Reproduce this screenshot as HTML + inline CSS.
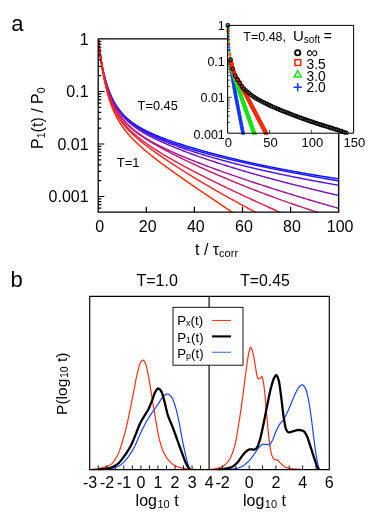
<!DOCTYPE html>
<html><head><meta charset="utf-8"><title>figure</title>
<style>html,body{margin:0;padding:0;background:#fff}body{width:374px;height:519px;overflow:hidden;font-family:"Liberation Sans",sans-serif}svg{display:block;transform:translateZ(0);will-change:transform}</style>
</head><body>
<svg width="374" height="519" viewBox="0 0 374 519" font-family="Liberation Sans, sans-serif" fill="#000">
<rect width="374" height="519" fill="#fff"/>
<defs>
<clipPath id="cm"><rect x="98.2" y="38.8" width="240.5" height="173.39999999999998"/></clipPath>
<clipPath id="ci"><rect x="224.6" y="22.4" width="129.00000000000003" height="112.39999999999998"/></clipPath>
<clipPath id="cl"><rect x="89.7" y="296.3" width="119.39999999999999" height="174.10000000000002"/></clipPath>
<clipPath id="cr"><rect x="209.1" y="296.3" width="120.20000000000002" height="174.10000000000002"/></clipPath>
</defs>
<text x="11.2" y="31" font-size="22">a</text>
<text x="10.6" y="287.3" font-size="22">b</text>
<g clip-path="url(#cm)" fill="none" stroke-width="1.45" stroke-linejoin="round">
<path d="M98.20,39.00 L98.40,40.78 L98.60,42.50 L98.81,44.17 L99.01,45.79 L99.21,47.37 L99.41,48.89 L99.61,50.37 L99.82,51.81 L100.02,53.20 L100.22,54.56 L100.42,55.88 L100.63,57.17 L100.83,58.41 L101.03,59.63 L101.23,60.81 L101.43,61.97 L101.64,63.09 L101.84,64.19 L102.04,65.25 L102.24,66.29 L102.44,67.31 L102.65,68.30 L102.85,69.27 L103.05,70.21 L103.25,71.14 L103.45,72.04 L103.66,72.92 L103.86,73.79 L104.06,74.63 L104.26,75.46 L104.47,76.26 L104.67,77.05 L104.87,77.83 L105.07,78.59 L105.27,79.33 L105.48,80.06 L105.68,80.77 L105.88,81.47 L106.08,82.16 L106.28,82.83 L106.49,83.49 L106.69,84.14 L106.89,84.77 L107.09,85.40 L107.29,86.01 L107.50,86.61 L107.70,87.20 L107.90,87.79 L108.10,88.36 L108.31,88.92 L108.51,89.47 L108.71,90.01 L108.91,90.55 L109.11,91.07 L109.32,91.59 L109.52,92.09 L109.72,92.59 L109.92,93.09 L110.12,93.57 L110.33,94.05 L110.53,94.52 L110.73,94.98 L110.93,95.43 L111.13,95.88 L111.34,96.33 L111.54,96.76 L111.74,97.19 L111.94,97.61 L112.14,98.03 L112.35,98.44 L112.55,98.85 L112.75,99.25 L112.95,99.64 L113.16,100.03 L113.36,100.41 L113.56,100.79 L113.76,101.16 L113.96,101.53 L114.17,101.89 L114.37,102.25 L114.57,102.61 L114.77,102.96 L114.97,103.30 L115.18,103.64 L115.38,103.98 L115.58,104.31 L115.78,104.64 L115.98,104.96 L116.19,105.28 L116.39,105.60 L116.59,105.91 L116.79,106.22 L117.00,106.52 L117.20,106.83 L117.40,107.12 L117.60,107.42 L117.80,107.71 L118.01,108.00 L118.21,108.28 L118.41,108.56 L118.61,108.84 L118.81,109.11 L119.02,109.39 L119.22,109.65 L119.42,109.92 L119.62,110.18 L119.82,110.44 L120.03,110.70 L120.23,110.96 L120.43,111.21 L120.63,111.46 L120.84,111.70 L121.04,111.95 L121.24,112.19 L121.44,112.43 L121.64,112.66 L121.85,112.90 L122.05,113.13 L122.25,113.36 L122.97,114.16 L123.70,114.94 L124.42,115.69 L125.15,116.41 L125.87,117.11 L126.59,117.79 L127.32,118.45 L128.04,119.09 L128.77,119.71 L129.49,120.31 L130.21,120.89 L130.94,121.46 L131.66,122.02 L132.38,122.55 L133.11,123.08 L133.83,123.59 L134.56,124.09 L135.28,124.58 L136.00,125.06 L136.73,125.52 L137.45,125.98 L138.18,126.42 L138.90,126.86 L139.62,127.29 L140.35,127.71 L141.07,128.12 L141.80,128.52 L142.52,128.92 L143.24,129.31 L143.97,129.69 L144.69,130.06 L145.42,130.43 L146.14,130.80 L146.86,131.16 L147.59,131.51 L148.31,131.86 L149.03,132.20 L149.76,132.54 L150.48,132.87 L151.21,133.20 L151.93,133.52 L152.65,133.84 L153.38,134.16 L154.10,134.47 L154.83,134.78 L155.55,135.09 L156.27,135.39 L157.00,135.69 L157.72,135.98 L158.45,136.28 L159.17,136.57 L159.89,136.85 L160.62,137.14 L161.34,137.42 L162.07,137.70 L162.79,137.97 L163.51,138.25 L164.24,138.52 L164.96,138.79 L165.68,139.06 L166.41,139.32 L167.13,139.59 L167.86,139.85 L168.58,140.11 L169.30,140.37 L170.03,140.62 L170.75,140.88 L171.48,141.13 L172.20,141.38 L172.92,141.63 L173.65,141.88 L174.37,142.12 L175.10,142.37 L175.82,142.61 L176.54,142.85 L177.27,143.09 L177.99,143.33 L178.72,143.57 L179.44,143.81 L180.16,144.04 L180.89,144.27 L181.61,144.51 L182.33,144.74 L183.06,144.97 L183.78,145.20 L184.51,145.42 L185.23,145.65 L185.95,145.88 L186.68,146.10 L187.40,146.32 L188.13,146.55 L188.85,146.77 L189.57,146.99 L190.30,147.21 L191.02,147.42 L191.75,147.64 L192.47,147.86 L193.19,148.07 L193.92,148.29 L194.64,148.50 L195.37,148.71 L196.09,148.92 L196.81,149.14 L197.54,149.34 L198.26,149.55 L198.98,149.76 L199.71,149.97 L200.43,150.17 L201.16,150.38 L201.88,150.58 L202.60,150.79 L203.33,150.99 L204.05,151.19 L204.78,151.39 L205.50,151.59 L206.22,151.79 L206.95,151.99 L207.67,152.19 L208.40,152.39 L209.12,152.59 L209.84,152.78 L210.57,152.98 L211.29,153.17 L212.02,153.36 L212.74,153.56 L213.46,153.75 L214.19,153.94 L214.91,154.13 L215.63,154.32 L216.36,154.51 L217.08,154.70 L217.81,154.89 L218.53,155.07 L219.25,155.26 L219.98,155.45 L220.70,155.63 L221.43,155.82 L222.15,156.00 L222.87,156.18 L223.60,156.36 L224.32,156.55 L225.05,156.73 L225.77,156.91 L226.49,157.09 L227.22,157.27 L227.94,157.45 L228.67,157.62 L229.39,157.80 L230.11,157.98 L230.84,158.15 L231.56,158.33 L232.28,158.50 L233.01,158.68 L233.73,158.85 L234.46,159.02 L235.18,159.20 L235.90,159.37 L236.63,159.54 L237.35,159.71 L238.08,159.88 L238.80,160.05 L239.52,160.22 L240.25,160.39 L240.97,160.55 L241.70,160.72 L242.42,160.89 L243.14,161.05 L243.87,161.22 L244.59,161.38 L245.32,161.55 L246.04,161.71 L246.76,161.88 L247.49,162.04 L248.21,162.20 L248.93,162.36 L249.66,162.52 L250.38,162.68 L251.11,162.84 L251.83,163.00 L252.55,163.16 L253.28,163.32 L254.00,163.48 L254.73,163.63 L255.45,163.79 L256.17,163.95 L256.90,164.10 L257.62,164.26 L258.35,164.41 L259.07,164.57 L259.79,164.72 L260.52,164.87 L261.24,165.03 L261.97,165.18 L262.69,165.33 L263.41,165.48 L264.14,165.63 L264.86,165.78 L265.58,165.93 L266.31,166.08 L267.03,166.23 L267.76,166.38 L268.48,166.53 L269.20,166.67 L269.93,166.82 L270.65,166.97 L271.38,167.11 L272.10,167.26 L272.82,167.40 L273.55,167.55 L274.27,167.69 L275.00,167.83 L275.72,167.98 L276.44,168.12 L277.17,168.26 L277.89,168.40 L278.62,168.54 L279.34,168.68 L280.06,168.82 L280.79,168.96 L281.51,169.10 L282.23,169.24 L282.96,169.38 L283.68,169.52 L284.41,169.66 L285.13,169.79 L285.85,169.93 L286.58,170.07 L287.30,170.20 L288.03,170.34 L288.75,170.47 L289.47,170.61 L290.20,170.74 L290.92,170.88 L291.65,171.01 L292.37,171.14 L293.09,171.28 L293.82,171.41 L294.54,171.54 L295.27,171.67 L295.99,171.80 L296.71,171.93 L297.44,172.06 L298.16,172.19 L298.88,172.32 L299.61,172.45 L300.33,172.58 L301.06,172.71 L301.78,172.83 L302.50,172.96 L303.23,173.09 L303.95,173.22 L304.68,173.34 L305.40,173.47 L306.12,173.59 L306.85,173.72 L307.57,173.84 L308.30,173.97 L309.02,174.09 L309.74,174.21 L310.47,174.34 L311.19,174.46 L311.92,174.58 L312.64,174.71 L313.36,174.83 L314.09,174.95 L314.81,175.07 L315.53,175.19 L316.26,175.31 L316.98,175.43 L317.71,175.55 L318.43,175.67 L319.15,175.79 L319.88,175.91 L320.60,176.02 L321.33,176.14 L322.05,176.26 L322.77,176.38 L323.50,176.49 L324.22,176.61 L324.95,176.73 L325.67,176.84 L326.39,176.96 L327.12,177.07 L327.84,177.19 L328.57,177.30 L329.29,177.42 L330.01,177.53 L330.74,177.64 L331.46,177.76 L332.18,177.87 L332.91,177.98 L333.63,178.09 L334.36,178.21 L335.08,178.32 L335.80,178.43 L336.53,178.54 L337.25,178.65 L337.98,178.76 L338.70,178.87" stroke="rgb(0,20,255)"/>
<path d="M98.20,39.00 L98.40,40.77 L98.60,42.49 L98.81,44.15 L99.01,45.77 L99.21,47.34 L99.41,48.86 L99.61,50.35 L99.82,51.79 L100.02,53.19 L100.22,54.55 L100.42,55.88 L100.63,57.17 L100.83,58.43 L101.03,59.65 L101.23,60.85 L101.43,62.01 L101.64,63.15 L101.84,64.25 L102.04,65.33 L102.24,66.38 L102.44,67.41 L102.65,68.42 L102.85,69.40 L103.05,70.35 L103.25,71.29 L103.45,72.20 L103.66,73.10 L103.86,73.97 L104.06,74.83 L104.26,75.67 L104.47,76.49 L104.67,77.29 L104.87,78.07 L105.07,78.84 L105.27,79.60 L105.48,80.34 L105.68,81.06 L105.88,81.77 L106.08,82.47 L106.28,83.15 L106.49,83.82 L106.69,84.47 L106.89,85.12 L107.09,85.75 L107.29,86.37 L107.50,86.98 L107.70,87.58 L107.90,88.17 L108.10,88.75 L108.31,89.32 L108.51,89.88 L108.71,90.43 L108.91,90.97 L109.11,91.50 L109.32,92.02 L109.52,92.53 L109.72,93.04 L109.92,93.54 L110.12,94.03 L110.33,94.51 L110.53,94.98 L110.73,95.45 L110.93,95.91 L111.13,96.36 L111.34,96.81 L111.54,97.25 L111.74,97.68 L111.94,98.11 L112.14,98.53 L112.35,98.94 L112.55,99.35 L112.75,99.75 L112.95,100.15 L113.16,100.54 L113.36,100.93 L113.56,101.31 L113.76,101.69 L113.96,102.06 L114.17,102.42 L114.37,102.78 L114.57,103.14 L114.77,103.49 L114.97,103.84 L115.18,104.18 L115.38,104.52 L115.58,104.85 L115.78,105.18 L115.98,105.51 L116.19,105.83 L116.39,106.15 L116.59,106.47 L116.79,106.78 L117.00,107.08 L117.20,107.39 L117.40,107.69 L117.60,107.98 L117.80,108.27 L118.01,108.56 L118.21,108.85 L118.41,109.13 L118.61,109.41 L118.81,109.69 L119.02,109.96 L119.22,110.23 L119.42,110.50 L119.62,110.77 L119.82,111.03 L120.03,111.29 L120.23,111.54 L120.43,111.80 L120.63,112.05 L120.84,112.30 L121.04,112.54 L121.24,112.79 L121.44,113.03 L121.64,113.27 L121.85,113.50 L122.05,113.74 L122.25,113.97 L122.97,114.78 L123.70,115.57 L124.42,116.33 L125.15,117.06 L125.87,117.77 L126.59,118.46 L127.32,119.13 L128.04,119.78 L128.77,120.42 L129.49,121.03 L130.21,121.63 L130.94,122.21 L131.66,122.78 L132.38,123.34 L133.11,123.88 L133.83,124.41 L134.56,124.92 L135.28,125.43 L136.00,125.92 L136.73,126.40 L137.45,126.88 L138.18,127.34 L138.90,127.79 L139.62,128.24 L140.35,128.68 L141.07,129.11 L141.80,129.53 L142.52,129.94 L143.24,130.35 L143.97,130.75 L144.69,131.14 L145.42,131.53 L146.14,131.91 L146.86,132.28 L147.59,132.65 L148.31,133.02 L149.03,133.38 L149.76,133.73 L150.48,134.08 L151.21,134.43 L151.93,134.77 L152.65,135.10 L153.38,135.43 L154.10,135.76 L154.83,136.09 L155.55,136.41 L156.27,136.72 L157.00,137.03 L157.72,137.34 L158.45,137.65 L159.17,137.95 L159.89,138.25 L160.62,138.55 L161.34,138.84 L162.07,139.13 L162.79,139.42 L163.51,139.71 L164.24,139.99 L164.96,140.27 L165.68,140.55 L166.41,140.82 L167.13,141.10 L167.86,141.37 L168.58,141.64 L169.30,141.90 L170.03,142.17 L170.75,142.43 L171.48,142.69 L172.20,142.95 L172.92,143.20 L173.65,143.46 L174.37,143.71 L175.10,143.96 L175.82,144.21 L176.54,144.45 L177.27,144.70 L177.99,144.94 L178.72,145.18 L179.44,145.42 L180.16,145.66 L180.89,145.90 L181.61,146.14 L182.33,146.37 L183.06,146.60 L183.78,146.83 L184.51,147.06 L185.23,147.29 L185.95,147.52 L186.68,147.75 L187.40,147.97 L188.13,148.19 L188.85,148.41 L189.57,148.64 L190.30,148.85 L191.02,149.07 L191.75,149.29 L192.47,149.51 L193.19,149.72 L193.92,149.93 L194.64,150.15 L195.37,150.36 L196.09,150.57 L196.81,150.78 L197.54,150.99 L198.26,151.19 L198.98,151.40 L199.71,151.60 L200.43,151.81 L201.16,152.01 L201.88,152.21 L202.60,152.41 L203.33,152.61 L204.05,152.81 L204.78,153.01 L205.50,153.21 L206.22,153.41 L206.95,153.60 L207.67,153.80 L208.40,153.99 L209.12,154.18 L209.84,154.38 L210.57,154.57 L211.29,154.76 L212.02,154.95 L212.74,155.14 L213.46,155.33 L214.19,155.51 L214.91,155.70 L215.63,155.89 L216.36,156.07 L217.08,156.25 L217.81,156.44 L218.53,156.62 L219.25,156.80 L219.98,156.99 L220.70,157.17 L221.43,157.35 L222.15,157.53 L222.87,157.70 L223.60,157.88 L224.32,158.06 L225.05,158.24 L225.77,158.41 L226.49,158.59 L227.22,158.76 L227.94,158.94 L228.67,159.11 L229.39,159.28 L230.11,159.46 L230.84,159.63 L231.56,159.80 L232.28,159.97 L233.01,160.14 L233.73,160.31 L234.46,160.48 L235.18,160.65 L235.90,160.81 L236.63,160.98 L237.35,161.15 L238.08,161.31 L238.80,161.48 L239.52,161.65 L240.25,161.81 L240.97,161.97 L241.70,162.14 L242.42,162.30 L243.14,162.46 L243.87,162.62 L244.59,162.79 L245.32,162.95 L246.04,163.11 L246.76,163.27 L247.49,163.43 L248.21,163.59 L248.93,163.75 L249.66,163.90 L250.38,164.06 L251.11,164.22 L251.83,164.38 L252.55,164.53 L253.28,164.69 L254.00,164.84 L254.73,165.00 L255.45,165.15 L256.17,165.31 L256.90,165.46 L257.62,165.62 L258.35,165.77 L259.07,165.92 L259.79,166.07 L260.52,166.22 L261.24,166.38 L261.97,166.53 L262.69,166.68 L263.41,166.83 L264.14,166.98 L264.86,167.13 L265.58,167.28 L266.31,167.43 L267.03,167.57 L267.76,167.72 L268.48,167.87 L269.20,168.02 L269.93,168.17 L270.65,168.31 L271.38,168.46 L272.10,168.60 L272.82,168.75 L273.55,168.90 L274.27,169.04 L275.00,169.19 L275.72,169.33 L276.44,169.47 L277.17,169.62 L277.89,169.76 L278.62,169.90 L279.34,170.05 L280.06,170.19 L280.79,170.33 L281.51,170.47 L282.23,170.62 L282.96,170.76 L283.68,170.90 L284.41,171.04 L285.13,171.18 L285.85,171.32 L286.58,171.46 L287.30,171.60 L288.03,171.74 L288.75,171.88 L289.47,172.02 L290.20,172.16 L290.92,172.29 L291.65,172.43 L292.37,172.57 L293.09,172.71 L293.82,172.85 L294.54,172.98 L295.27,173.12 L295.99,173.26 L296.71,173.39 L297.44,173.53 L298.16,173.66 L298.88,173.80 L299.61,173.94 L300.33,174.07 L301.06,174.21 L301.78,174.34 L302.50,174.48 L303.23,174.61 L303.95,174.74 L304.68,174.88 L305.40,175.01 L306.12,175.14 L306.85,175.28 L307.57,175.41 L308.30,175.54 L309.02,175.68 L309.74,175.81 L310.47,175.94 L311.19,176.07 L311.92,176.20 L312.64,176.34 L313.36,176.47 L314.09,176.60 L314.81,176.73 L315.53,176.86 L316.26,176.99 L316.98,177.12 L317.71,177.25 L318.43,177.38 L319.15,177.51 L319.88,177.64 L320.60,177.77 L321.33,177.90 L322.05,178.03 L322.77,178.16 L323.50,178.29 L324.22,178.42 L324.95,178.54 L325.67,178.67 L326.39,178.80 L327.12,178.93 L327.84,179.06 L328.57,179.18 L329.29,179.31 L330.01,179.44 L330.74,179.57 L331.46,179.69 L332.18,179.82 L332.91,179.95 L333.63,180.07 L334.36,180.20 L335.08,180.32 L335.80,180.45 L336.53,180.58 L337.25,180.70 L337.98,180.83 L338.70,180.95" stroke="rgb(38,20,255)"/>
<path d="M98.20,39.00 L98.40,40.78 L98.60,42.51 L98.81,44.18 L99.01,45.81 L99.21,47.39 L99.41,48.92 L99.61,50.41 L99.82,51.86 L100.02,53.27 L100.22,54.64 L100.42,55.97 L100.63,57.27 L100.83,58.53 L101.03,59.76 L101.23,60.96 L101.43,62.13 L101.64,63.27 L101.84,64.38 L102.04,65.47 L102.24,66.52 L102.44,67.56 L102.65,68.57 L102.85,69.55 L103.05,70.52 L103.25,71.46 L103.45,72.38 L103.66,73.28 L103.86,74.16 L104.06,75.02 L104.26,75.86 L104.47,76.69 L104.67,77.50 L104.87,78.29 L105.07,79.06 L105.27,79.82 L105.48,80.57 L105.68,81.30 L105.88,82.01 L106.08,82.71 L106.28,83.40 L106.49,84.08 L106.69,84.74 L106.89,85.39 L107.09,86.03 L107.29,86.66 L107.50,87.28 L107.70,87.88 L107.90,88.48 L108.10,89.06 L108.31,89.64 L108.51,90.20 L108.71,90.76 L108.91,91.30 L109.11,91.84 L109.32,92.37 L109.52,92.89 L109.72,93.40 L109.92,93.90 L110.12,94.40 L110.33,94.89 L110.53,95.37 L110.73,95.84 L110.93,96.31 L111.13,96.77 L111.34,97.22 L111.54,97.67 L111.74,98.11 L111.94,98.54 L112.14,98.97 L112.35,99.39 L112.55,99.80 L112.75,100.21 L112.95,100.61 L113.16,101.01 L113.36,101.40 L113.56,101.79 L113.76,102.17 L113.96,102.55 L114.17,102.92 L114.37,103.29 L114.57,103.65 L114.77,104.01 L114.97,104.36 L115.18,104.71 L115.38,105.06 L115.58,105.40 L115.78,105.73 L115.98,106.06 L116.19,106.39 L116.39,106.72 L116.59,107.04 L116.79,107.35 L117.00,107.66 L117.20,107.97 L117.40,108.28 L117.60,108.58 L117.80,108.88 L118.01,109.17 L118.21,109.46 L118.41,109.75 L118.61,110.04 L118.81,110.32 L119.02,110.60 L119.22,110.87 L119.42,111.14 L119.62,111.41 L119.82,111.68 L120.03,111.94 L120.23,112.21 L120.43,112.46 L120.63,112.72 L120.84,112.97 L121.04,113.22 L121.24,113.47 L121.44,113.72 L121.64,113.96 L121.85,114.20 L122.05,114.44 L122.25,114.67 L122.97,115.50 L123.70,116.30 L124.42,117.07 L125.15,117.82 L125.87,118.54 L126.59,119.24 L127.32,119.92 L128.04,120.59 L128.77,121.23 L129.49,121.85 L130.21,122.46 L130.94,123.05 L131.66,123.63 L132.38,124.19 L133.11,124.74 L133.83,125.28 L134.56,125.80 L135.28,126.31 L136.00,126.81 L136.73,127.30 L137.45,127.78 L138.18,128.25 L138.90,128.72 L139.62,129.17 L140.35,129.61 L141.07,130.05 L141.80,130.47 L142.52,130.90 L143.24,131.31 L143.97,131.72 L144.69,132.12 L145.42,132.51 L146.14,132.90 L146.86,133.28 L147.59,133.66 L148.31,134.03 L149.03,134.40 L149.76,134.76 L150.48,135.12 L151.21,135.47 L151.93,135.82 L152.65,136.17 L153.38,136.51 L154.10,136.84 L154.83,137.18 L155.55,137.51 L156.27,137.83 L157.00,138.15 L157.72,138.47 L158.45,138.79 L159.17,139.10 L159.89,139.42 L160.62,139.72 L161.34,140.03 L162.07,140.33 L162.79,140.63 L163.51,140.93 L164.24,141.22 L164.96,141.52 L165.68,141.81 L166.41,142.10 L167.13,142.38 L167.86,142.67 L168.58,142.95 L169.30,143.23 L170.03,143.51 L170.75,143.78 L171.48,144.06 L172.20,144.33 L172.92,144.60 L173.65,144.87 L174.37,145.14 L175.10,145.40 L175.82,145.67 L176.54,145.93 L177.27,146.19 L177.99,146.45 L178.72,146.71 L179.44,146.97 L180.16,147.22 L180.89,147.47 L181.61,147.73 L182.33,147.98 L183.06,148.23 L183.78,148.48 L184.51,148.72 L185.23,148.97 L185.95,149.21 L186.68,149.46 L187.40,149.70 L188.13,149.94 L188.85,150.18 L189.57,150.42 L190.30,150.66 L191.02,150.90 L191.75,151.13 L192.47,151.37 L193.19,151.60 L193.92,151.83 L194.64,152.06 L195.37,152.29 L196.09,152.52 L196.81,152.75 L197.54,152.98 L198.26,153.20 L198.98,153.43 L199.71,153.65 L200.43,153.88 L201.16,154.10 L201.88,154.32 L202.60,154.54 L203.33,154.76 L204.05,154.98 L204.78,155.20 L205.50,155.42 L206.22,155.63 L206.95,155.85 L207.67,156.06 L208.40,156.27 L209.12,156.49 L209.84,156.70 L210.57,156.91 L211.29,157.12 L212.02,157.33 L212.74,157.54 L213.46,157.75 L214.19,157.95 L214.91,158.16 L215.63,158.37 L216.36,158.57 L217.08,158.77 L217.81,158.98 L218.53,159.18 L219.25,159.38 L219.98,159.58 L220.70,159.78 L221.43,159.98 L222.15,160.18 L222.87,160.38 L223.60,160.58 L224.32,160.77 L225.05,160.97 L225.77,161.16 L226.49,161.36 L227.22,161.55 L227.94,161.74 L228.67,161.94 L229.39,162.13 L230.11,162.32 L230.84,162.51 L231.56,162.70 L232.28,162.89 L233.01,163.08 L233.73,163.26 L234.46,163.45 L235.18,163.64 L235.90,163.82 L236.63,164.01 L237.35,164.19 L238.08,164.38 L238.80,164.56 L239.52,164.74 L240.25,164.92 L240.97,165.11 L241.70,165.29 L242.42,165.47 L243.14,165.65 L243.87,165.83 L244.59,166.00 L245.32,166.18 L246.04,166.36 L246.76,166.54 L247.49,166.71 L248.21,166.89 L248.93,167.06 L249.66,167.24 L250.38,167.41 L251.11,167.58 L251.83,167.76 L252.55,167.93 L253.28,168.10 L254.00,168.27 L254.73,168.44 L255.45,168.61 L256.17,168.78 L256.90,168.95 L257.62,169.12 L258.35,169.28 L259.07,169.45 L259.79,169.62 L260.52,169.79 L261.24,169.95 L261.97,170.12 L262.69,170.28 L263.41,170.45 L264.14,170.61 L264.86,170.77 L265.58,170.93 L266.31,171.10 L267.03,171.26 L267.76,171.42 L268.48,171.58 L269.20,171.74 L269.93,171.90 L270.65,172.06 L271.38,172.22 L272.10,172.38 L272.82,172.54 L273.55,172.69 L274.27,172.85 L275.00,173.01 L275.72,173.16 L276.44,173.32 L277.17,173.47 L277.89,173.63 L278.62,173.78 L279.34,173.94 L280.06,174.09 L280.79,174.24 L281.51,174.39 L282.23,174.55 L282.96,174.70 L283.68,174.85 L284.41,175.00 L285.13,175.15 L285.85,175.30 L286.58,175.45 L287.30,175.60 L288.03,175.75 L288.75,175.90 L289.47,176.05 L290.20,176.19 L290.92,176.34 L291.65,176.49 L292.37,176.63 L293.09,176.78 L293.82,176.92 L294.54,177.07 L295.27,177.21 L295.99,177.36 L296.71,177.50 L297.44,177.65 L298.16,177.79 L298.88,177.93 L299.61,178.08 L300.33,178.22 L301.06,178.36 L301.78,178.50 L302.50,178.64 L303.23,178.78 L303.95,178.92 L304.68,179.06 L305.40,179.20 L306.12,179.34 L306.85,179.48 L307.57,179.62 L308.30,179.76 L309.02,179.90 L309.74,180.03 L310.47,180.17 L311.19,180.31 L311.92,180.44 L312.64,180.58 L313.36,180.72 L314.09,180.85 L314.81,180.99 L315.53,181.12 L316.26,181.26 L316.98,181.39 L317.71,181.52 L318.43,181.66 L319.15,181.79 L319.88,181.92 L320.60,182.06 L321.33,182.19 L322.05,182.32 L322.77,182.45 L323.50,182.58 L324.22,182.72 L324.95,182.85 L325.67,182.98 L326.39,183.11 L327.12,183.24 L327.84,183.37 L328.57,183.50 L329.29,183.63 L330.01,183.75 L330.74,183.88 L331.46,184.01 L332.18,184.14 L332.91,184.27 L333.63,184.39 L334.36,184.52 L335.08,184.65 L335.80,184.77 L336.53,184.90 L337.25,185.03 L337.98,185.15 L338.70,185.28" stroke="rgb(76,21,229)"/>
<path d="M98.20,39.00 L98.40,40.77 L98.60,42.48 L98.81,44.15 L99.01,45.78 L99.21,47.35 L99.41,48.89 L99.61,50.38 L99.82,51.83 L100.02,53.25 L100.22,54.62 L100.42,55.97 L100.63,57.27 L100.83,58.55 L101.03,59.79 L101.23,61.00 L101.43,62.18 L101.64,63.34 L101.84,64.46 L102.04,65.56 L102.24,66.64 L102.44,67.69 L102.65,68.71 L102.85,69.71 L103.05,70.69 L103.25,71.65 L103.45,72.59 L103.66,73.50 L103.86,74.40 L104.06,75.28 L104.26,76.14 L104.47,76.98 L104.67,77.80 L104.87,78.61 L105.07,79.40 L105.27,80.18 L105.48,80.94 L105.68,81.68 L105.88,82.41 L106.08,83.13 L106.28,83.83 L106.49,84.52 L106.69,85.20 L106.89,85.86 L107.09,86.52 L107.29,87.16 L107.50,87.79 L107.70,88.40 L107.90,89.01 L108.10,89.61 L108.31,90.19 L108.51,90.77 L108.71,91.34 L108.91,91.90 L109.11,92.44 L109.32,92.98 L109.52,93.51 L109.72,94.03 L109.92,94.55 L110.12,95.05 L110.33,95.55 L110.53,96.04 L110.73,96.52 L110.93,97.00 L111.13,97.46 L111.34,97.92 L111.54,98.38 L111.74,98.82 L111.94,99.26 L112.14,99.70 L112.35,100.13 L112.55,100.55 L112.75,100.96 L112.95,101.37 L113.16,101.78 L113.36,102.17 L113.56,102.57 L113.76,102.95 L113.96,103.34 L114.17,103.71 L114.37,104.09 L114.57,104.45 L114.77,104.81 L114.97,105.17 L115.18,105.53 L115.38,105.87 L115.58,106.22 L115.78,106.56 L115.98,106.89 L116.19,107.22 L116.39,107.55 L116.59,107.88 L116.79,108.19 L117.00,108.51 L117.20,108.82 L117.40,109.13 L117.60,109.44 L117.80,109.74 L118.01,110.03 L118.21,110.33 L118.41,110.62 L118.61,110.91 L118.81,111.19 L119.02,111.47 L119.22,111.75 L119.42,112.02 L119.62,112.30 L119.82,112.57 L120.03,112.83 L120.23,113.10 L120.43,113.36 L120.63,113.61 L120.84,113.87 L121.04,114.12 L121.24,114.37 L121.44,114.62 L121.64,114.86 L121.85,115.11 L122.05,115.35 L122.25,115.59 L122.97,116.42 L123.70,117.22 L124.42,118.00 L125.15,118.76 L125.87,119.49 L126.59,120.20 L127.32,120.89 L128.04,121.56 L128.77,122.21 L129.49,122.84 L130.21,123.46 L130.94,124.06 L131.66,124.65 L132.38,125.22 L133.11,125.78 L133.83,126.32 L134.56,126.86 L135.28,127.38 L136.00,127.90 L136.73,128.40 L137.45,128.89 L138.18,129.38 L138.90,129.85 L139.62,130.32 L140.35,130.77 L141.07,131.23 L141.80,131.67 L142.52,132.11 L143.24,132.53 L143.97,132.96 L144.69,133.38 L145.42,133.79 L146.14,134.19 L146.86,134.59 L147.59,134.99 L148.31,135.38 L149.03,135.77 L149.76,136.15 L150.48,136.52 L151.21,136.90 L151.93,137.27 L152.65,137.63 L153.38,137.99 L154.10,138.35 L154.83,138.71 L155.55,139.06 L156.27,139.40 L157.00,139.75 L157.72,140.09 L158.45,140.43 L159.17,140.77 L159.89,141.10 L160.62,141.43 L161.34,141.76 L162.07,142.09 L162.79,142.41 L163.51,142.73 L164.24,143.05 L164.96,143.37 L165.68,143.68 L166.41,143.99 L167.13,144.31 L167.86,144.61 L168.58,144.92 L169.30,145.23 L170.03,145.53 L170.75,145.83 L171.48,146.13 L172.20,146.43 L172.92,146.73 L173.65,147.02 L174.37,147.32 L175.10,147.61 L175.82,147.90 L176.54,148.19 L177.27,148.48 L177.99,148.77 L178.72,149.05 L179.44,149.33 L180.16,149.62 L180.89,149.90 L181.61,150.18 L182.33,150.46 L183.06,150.74 L183.78,151.01 L184.51,151.29 L185.23,151.56 L185.95,151.84 L186.68,152.11 L187.40,152.38 L188.13,152.65 L188.85,152.92 L189.57,153.19 L190.30,153.45 L191.02,153.72 L191.75,153.99 L192.47,154.25 L193.19,154.51 L193.92,154.77 L194.64,155.04 L195.37,155.30 L196.09,155.56 L196.81,155.81 L197.54,156.07 L198.26,156.33 L198.98,156.58 L199.71,156.84 L200.43,157.09 L201.16,157.35 L201.88,157.60 L202.60,157.85 L203.33,158.10 L204.05,158.35 L204.78,158.60 L205.50,158.85 L206.22,159.09 L206.95,159.34 L207.67,159.59 L208.40,159.83 L209.12,160.08 L209.84,160.32 L210.57,160.56 L211.29,160.81 L212.02,161.05 L212.74,161.29 L213.46,161.53 L214.19,161.77 L214.91,162.01 L215.63,162.24 L216.36,162.48 L217.08,162.72 L217.81,162.95 L218.53,163.19 L219.25,163.42 L219.98,163.66 L220.70,163.89 L221.43,164.12 L222.15,164.35 L222.87,164.59 L223.60,164.82 L224.32,165.05 L225.05,165.27 L225.77,165.50 L226.49,165.73 L227.22,165.96 L227.94,166.19 L228.67,166.41 L229.39,166.64 L230.11,166.86 L230.84,167.09 L231.56,167.31 L232.28,167.53 L233.01,167.76 L233.73,167.98 L234.46,168.20 L235.18,168.42 L235.90,168.64 L236.63,168.86 L237.35,169.08 L238.08,169.30 L238.80,169.51 L239.52,169.73 L240.25,169.95 L240.97,170.16 L241.70,170.38 L242.42,170.59 L243.14,170.81 L243.87,171.02 L244.59,171.24 L245.32,171.45 L246.04,171.66 L246.76,171.87 L247.49,172.09 L248.21,172.30 L248.93,172.51 L249.66,172.72 L250.38,172.93 L251.11,173.14 L251.83,173.34 L252.55,173.55 L253.28,173.76 L254.00,173.97 L254.73,174.17 L255.45,174.38 L256.17,174.58 L256.90,174.79 L257.62,174.99 L258.35,175.20 L259.07,175.40 L259.79,175.60 L260.52,175.81 L261.24,176.01 L261.97,176.21 L262.69,176.41 L263.41,176.61 L264.14,176.81 L264.86,177.01 L265.58,177.21 L266.31,177.41 L267.03,177.61 L267.76,177.81 L268.48,178.00 L269.20,178.20 L269.93,178.40 L270.65,178.59 L271.38,178.79 L272.10,178.99 L272.82,179.18 L273.55,179.38 L274.27,179.57 L275.00,179.76 L275.72,179.96 L276.44,180.15 L277.17,180.34 L277.89,180.53 L278.62,180.73 L279.34,180.92 L280.06,181.11 L280.79,181.30 L281.51,181.49 L282.23,181.68 L282.96,181.87 L283.68,182.06 L284.41,182.25 L285.13,182.43 L285.85,182.62 L286.58,182.81 L287.30,183.00 L288.03,183.18 L288.75,183.37 L289.47,183.56 L290.20,183.74 L290.92,183.93 L291.65,184.11 L292.37,184.30 L293.09,184.48 L293.82,184.67 L294.54,184.85 L295.27,185.03 L295.99,185.21 L296.71,185.40 L297.44,185.58 L298.16,185.76 L298.88,185.94 L299.61,186.12 L300.33,186.30 L301.06,186.49 L301.78,186.67 L302.50,186.85 L303.23,187.02 L303.95,187.20 L304.68,187.38 L305.40,187.56 L306.12,187.74 L306.85,187.92 L307.57,188.09 L308.30,188.27 L309.02,188.45 L309.74,188.63 L310.47,188.80 L311.19,188.98 L311.92,189.15 L312.64,189.33 L313.36,189.50 L314.09,189.68 L314.81,189.85 L315.53,190.03 L316.26,190.20 L316.98,190.37 L317.71,190.55 L318.43,190.72 L319.15,190.89 L319.88,191.07 L320.60,191.24 L321.33,191.41 L322.05,191.58 L322.77,191.75 L323.50,191.92 L324.22,192.10 L324.95,192.27 L325.67,192.44 L326.39,192.61 L327.12,192.78 L327.84,192.95 L328.57,193.11 L329.29,193.28 L330.01,193.45 L330.74,193.62 L331.46,193.79 L332.18,193.96 L332.91,194.12 L333.63,194.29 L334.36,194.46 L335.08,194.62 L335.80,194.79 L336.53,194.96 L337.25,195.12 L337.98,195.29 L338.70,195.46" stroke="rgb(115,23,191)"/>
<path d="M98.20,39.00 L98.40,40.78 L98.60,42.51 L98.81,44.20 L99.01,45.84 L99.21,47.44 L99.41,49.00 L99.61,50.51 L99.82,51.99 L100.02,53.43 L100.22,54.84 L100.42,56.21 L100.63,57.54 L100.83,58.85 L101.03,60.12 L101.23,61.36 L101.43,62.57 L101.64,63.76 L101.84,64.91 L102.04,66.04 L102.24,67.15 L102.44,68.23 L102.65,69.29 L102.85,70.32 L103.05,71.33 L103.25,72.32 L103.45,73.28 L103.66,74.23 L103.86,75.16 L104.06,76.07 L104.26,76.96 L104.47,77.83 L104.67,78.68 L104.87,79.52 L105.07,80.34 L105.27,81.14 L105.48,81.93 L105.68,82.71 L105.88,83.47 L106.08,84.21 L106.28,84.94 L106.49,85.66 L106.69,86.36 L106.89,87.05 L107.09,87.73 L107.29,88.40 L107.50,89.06 L107.70,89.70 L107.90,90.33 L108.10,90.95 L108.31,91.57 L108.51,92.17 L108.71,92.76 L108.91,93.34 L109.11,93.91 L109.32,94.47 L109.52,95.03 L109.72,95.57 L109.92,96.11 L110.12,96.64 L110.33,97.16 L110.53,97.67 L110.73,98.17 L110.93,98.67 L111.13,99.16 L111.34,99.64 L111.54,100.11 L111.74,100.58 L111.94,101.04 L112.14,101.49 L112.35,101.94 L112.55,102.38 L112.75,102.82 L112.95,103.25 L113.16,103.67 L113.36,104.09 L113.56,104.50 L113.76,104.91 L113.96,105.31 L114.17,105.70 L114.37,106.09 L114.57,106.48 L114.77,106.86 L114.97,107.24 L115.18,107.61 L115.38,107.97 L115.58,108.34 L115.78,108.69 L115.98,109.05 L116.19,109.40 L116.39,109.74 L116.59,110.08 L116.79,110.42 L117.00,110.75 L117.20,111.08 L117.40,111.41 L117.60,111.73 L117.80,112.04 L118.01,112.36 L118.21,112.67 L118.41,112.98 L118.61,113.28 L118.81,113.58 L119.02,113.88 L119.22,114.17 L119.42,114.46 L119.62,114.75 L119.82,115.04 L120.03,115.32 L120.23,115.60 L120.43,115.88 L120.63,116.15 L120.84,116.42 L121.04,116.69 L121.24,116.96 L121.44,117.22 L121.64,117.48 L121.85,117.74 L122.05,117.99 L122.25,118.25 L122.97,119.14 L123.70,120.00 L124.42,120.83 L125.15,121.64 L125.87,122.42 L126.59,123.19 L127.32,123.93 L128.04,124.65 L128.77,125.35 L129.49,126.04 L130.21,126.70 L130.94,127.36 L131.66,127.99 L132.38,128.62 L133.11,129.22 L133.83,129.82 L134.56,130.40 L135.28,130.98 L136.00,131.54 L136.73,132.09 L137.45,132.63 L138.18,133.16 L138.90,133.68 L139.62,134.19 L140.35,134.69 L141.07,135.19 L141.80,135.67 L142.52,136.15 L143.24,136.63 L143.97,137.09 L144.69,137.55 L145.42,138.01 L146.14,138.45 L146.86,138.89 L147.59,139.33 L148.31,139.76 L149.03,140.18 L149.76,140.60 L150.48,141.02 L151.21,141.43 L151.93,141.84 L152.65,142.24 L153.38,142.64 L154.10,143.03 L154.83,143.42 L155.55,143.81 L156.27,144.19 L157.00,144.57 L157.72,144.94 L158.45,145.31 L159.17,145.68 L159.89,146.05 L160.62,146.41 L161.34,146.77 L162.07,147.13 L162.79,147.49 L163.51,147.84 L164.24,148.19 L164.96,148.53 L165.68,148.88 L166.41,149.22 L167.13,149.56 L167.86,149.90 L168.58,150.24 L169.30,150.57 L170.03,150.90 L170.75,151.23 L171.48,151.56 L172.20,151.89 L172.92,152.21 L173.65,152.53 L174.37,152.85 L175.10,153.17 L175.82,153.49 L176.54,153.81 L177.27,154.12 L177.99,154.43 L178.72,154.75 L179.44,155.06 L180.16,155.36 L180.89,155.67 L181.61,155.98 L182.33,156.28 L183.06,156.58 L183.78,156.89 L184.51,157.19 L185.23,157.49 L185.95,157.78 L186.68,158.08 L187.40,158.38 L188.13,158.67 L188.85,158.97 L189.57,159.26 L190.30,159.55 L191.02,159.84 L191.75,160.13 L192.47,160.42 L193.19,160.71 L193.92,161.00 L194.64,161.28 L195.37,161.57 L196.09,161.85 L196.81,162.13 L197.54,162.42 L198.26,162.70 L198.98,162.98 L199.71,163.26 L200.43,163.54 L201.16,163.82 L201.88,164.09 L202.60,164.37 L203.33,164.65 L204.05,164.92 L204.78,165.19 L205.50,165.47 L206.22,165.74 L206.95,166.01 L207.67,166.29 L208.40,166.56 L209.12,166.83 L209.84,167.10 L210.57,167.36 L211.29,167.63 L212.02,167.90 L212.74,168.17 L213.46,168.43 L214.19,168.70 L214.91,168.96 L215.63,169.23 L216.36,169.49 L217.08,169.76 L217.81,170.02 L218.53,170.28 L219.25,170.54 L219.98,170.80 L220.70,171.06 L221.43,171.32 L222.15,171.58 L222.87,171.84 L223.60,172.10 L224.32,172.36 L225.05,172.62 L225.77,172.87 L226.49,173.13 L227.22,173.38 L227.94,173.64 L228.67,173.89 L229.39,174.15 L230.11,174.40 L230.84,174.65 L231.56,174.91 L232.28,175.16 L233.01,175.41 L233.73,175.66 L234.46,175.91 L235.18,176.16 L235.90,176.41 L236.63,176.66 L237.35,176.91 L238.08,177.16 L238.80,177.41 L239.52,177.66 L240.25,177.91 L240.97,178.15 L241.70,178.40 L242.42,178.64 L243.14,178.89 L243.87,179.14 L244.59,179.38 L245.32,179.62 L246.04,179.87 L246.76,180.11 L247.49,180.36 L248.21,180.60 L248.93,180.84 L249.66,181.08 L250.38,181.32 L251.11,181.57 L251.83,181.81 L252.55,182.05 L253.28,182.29 L254.00,182.53 L254.73,182.77 L255.45,183.00 L256.17,183.24 L256.90,183.48 L257.62,183.72 L258.35,183.96 L259.07,184.19 L259.79,184.43 L260.52,184.67 L261.24,184.90 L261.97,185.14 L262.69,185.37 L263.41,185.61 L264.14,185.84 L264.86,186.08 L265.58,186.31 L266.31,186.54 L267.03,186.78 L267.76,187.01 L268.48,187.24 L269.20,187.47 L269.93,187.71 L270.65,187.94 L271.38,188.17 L272.10,188.40 L272.82,188.63 L273.55,188.86 L274.27,189.09 L275.00,189.32 L275.72,189.55 L276.44,189.78 L277.17,190.01 L277.89,190.23 L278.62,190.46 L279.34,190.69 L280.06,190.92 L280.79,191.14 L281.51,191.37 L282.23,191.60 L282.96,191.82 L283.68,192.05 L284.41,192.27 L285.13,192.50 L285.85,192.72 L286.58,192.95 L287.30,193.17 L288.03,193.40 L288.75,193.62 L289.47,193.84 L290.20,194.06 L290.92,194.29 L291.65,194.51 L292.37,194.73 L293.09,194.95 L293.82,195.17 L294.54,195.40 L295.27,195.62 L295.99,195.84 L296.71,196.06 L297.44,196.28 L298.16,196.50 L298.88,196.72 L299.61,196.94 L300.33,197.15 L301.06,197.37 L301.78,197.59 L302.50,197.81 L303.23,198.03 L303.95,198.24 L304.68,198.46 L305.40,198.68 L306.12,198.89 L306.85,199.11 L307.57,199.33 L308.30,199.54 L309.02,199.76 L309.74,199.97 L310.47,200.19 L311.19,200.40 L311.92,200.62 L312.64,200.83 L313.36,201.04 L314.09,201.26 L314.81,201.47 L315.53,201.68 L316.26,201.90 L316.98,202.11 L317.71,202.32 L318.43,202.53 L319.15,202.74 L319.88,202.96 L320.60,203.17 L321.33,203.38 L322.05,203.59 L322.77,203.80 L323.50,204.01 L324.22,204.22 L324.95,204.43 L325.67,204.64 L326.39,204.85 L327.12,205.06 L327.84,205.26 L328.57,205.47 L329.29,205.68 L330.01,205.89 L330.74,206.10 L331.46,206.30 L332.18,206.51 L332.91,206.72 L333.63,206.92 L334.36,207.13 L335.08,207.34 L335.80,207.54 L336.53,207.75 L337.25,207.95 L337.98,208.16 L338.70,208.36" stroke="rgb(153,25,153)"/>
<path d="M98.20,39.00 L98.40,40.75 L98.60,42.45 L98.81,44.11 L99.01,45.73 L99.21,47.32 L99.41,48.86 L99.61,50.37 L99.82,51.85 L100.02,53.29 L100.22,54.69 L100.42,56.07 L100.63,57.41 L100.83,58.72 L101.03,60.01 L101.23,61.26 L101.43,62.49 L101.64,63.69 L101.84,64.86 L102.04,66.01 L102.24,67.14 L102.44,68.24 L102.65,69.31 L102.85,70.37 L103.05,71.40 L103.25,72.41 L103.45,73.40 L103.66,74.37 L103.86,75.32 L104.06,76.25 L104.26,77.16 L104.47,78.06 L104.67,78.94 L104.87,79.79 L105.07,80.64 L105.27,81.46 L105.48,82.27 L105.68,83.07 L105.88,83.85 L106.08,84.62 L106.28,85.37 L106.49,86.10 L106.69,86.83 L106.89,87.54 L107.09,88.24 L107.29,88.92 L107.50,89.59 L107.70,90.25 L107.90,90.90 L108.10,91.54 L108.31,92.17 L108.51,92.78 L108.71,93.39 L108.91,93.99 L109.11,94.57 L109.32,95.15 L109.52,95.71 L109.72,96.27 L109.92,96.82 L110.12,97.36 L110.33,97.89 L110.53,98.41 L110.73,98.92 L110.93,99.43 L111.13,99.92 L111.34,100.41 L111.54,100.90 L111.74,101.37 L111.94,101.84 L112.14,102.30 L112.35,102.75 L112.55,103.20 L112.75,103.64 L112.95,104.07 L113.16,104.50 L113.36,104.92 L113.56,105.34 L113.76,105.75 L113.96,106.15 L114.17,106.55 L114.37,106.94 L114.57,107.33 L114.77,107.71 L114.97,108.09 L115.18,108.46 L115.38,108.83 L115.58,109.19 L115.78,109.55 L115.98,109.90 L116.19,110.25 L116.39,110.60 L116.59,110.94 L116.79,111.27 L117.00,111.61 L117.20,111.93 L117.40,112.26 L117.60,112.58 L117.80,112.89 L118.01,113.21 L118.21,113.51 L118.41,113.82 L118.61,114.12 L118.81,114.42 L119.02,114.71 L119.22,115.01 L119.42,115.29 L119.62,115.58 L119.82,115.86 L120.03,116.14 L120.23,116.42 L120.43,116.69 L120.63,116.96 L120.84,117.23 L121.04,117.49 L121.24,117.75 L121.44,118.01 L121.64,118.27 L121.85,118.52 L122.05,118.78 L122.25,119.03 L122.95,119.87 L123.65,120.69 L124.35,121.48 L125.05,122.25 L125.74,123.00 L126.44,123.72 L127.14,124.43 L127.84,125.12 L128.54,125.79 L129.24,126.44 L129.94,127.08 L130.64,127.71 L131.34,128.32 L132.04,128.92 L132.73,129.51 L133.43,130.08 L134.13,130.65 L134.83,131.20 L135.53,131.74 L136.23,132.28 L136.93,132.81 L137.63,133.33 L138.33,133.84 L139.03,134.34 L139.72,134.84 L140.42,135.33 L141.12,135.81 L141.82,136.29 L142.52,136.76 L143.22,137.23 L143.92,137.69 L144.62,138.14 L145.32,138.59 L146.02,139.04 L146.71,139.48 L147.41,139.92 L148.11,140.35 L148.81,140.78 L149.51,141.21 L150.21,141.63 L150.91,142.05 L151.61,142.47 L152.31,142.88 L153.01,143.29 L153.70,143.70 L154.40,144.10 L155.10,144.51 L155.80,144.90 L156.50,145.30 L157.20,145.70 L157.90,146.09 L158.60,146.48 L159.30,146.86 L159.99,147.25 L160.69,147.63 L161.39,148.02 L162.09,148.39 L162.79,148.77 L163.49,149.15 L164.19,149.52 L164.89,149.89 L165.59,150.27 L166.29,150.64 L166.98,151.00 L167.68,151.37 L168.38,151.73 L169.08,152.10 L169.78,152.46 L170.48,152.82 L171.18,153.18 L171.88,153.54 L172.58,153.89 L173.28,154.25 L173.97,154.60 L174.67,154.96 L175.37,155.31 L176.07,155.66 L176.77,156.01 L177.47,156.36 L178.17,156.70 L178.87,157.05 L179.57,157.39 L180.27,157.74 L180.96,158.08 L181.66,158.42 L182.36,158.77 L183.06,159.11 L183.76,159.44 L184.46,159.78 L185.16,160.12 L185.86,160.46 L186.56,160.79 L187.25,161.13 L187.95,161.46 L188.65,161.79 L189.35,162.13 L190.05,162.46 L190.75,162.79 L191.45,163.12 L192.15,163.45 L192.85,163.77 L193.55,164.10 L194.24,164.43 L194.94,164.75 L195.64,165.08 L196.34,165.40 L197.04,165.72 L197.74,166.05 L198.44,166.37 L199.14,166.69 L199.84,167.01 L200.54,167.33 L201.23,167.65 L201.93,167.97 L202.63,168.28 L203.33,168.60 L204.03,168.91 L204.73,169.23 L205.43,169.54 L206.13,169.86 L206.83,170.17 L207.53,170.48 L208.22,170.79 L208.92,171.10 L209.62,171.42 L210.32,171.72 L211.02,172.03 L211.72,172.34 L212.42,172.65 L213.12,172.96 L213.82,173.26 L214.52,173.57 L215.21,173.87 L215.91,174.18 L216.61,174.48 L217.31,174.78 L218.01,175.08 L218.71,175.39 L219.41,175.69 L220.11,175.99 L220.81,176.29 L221.50,176.58 L222.20,176.88 L222.90,177.18 L223.60,177.48 L224.30,177.77 L225.00,178.07 L225.70,178.37 L226.40,178.66 L227.10,178.95 L227.80,179.25 L228.49,179.54 L229.19,179.83 L229.89,180.12 L230.59,180.41 L231.29,180.70 L231.99,180.99 L232.69,181.28 L233.39,181.57 L234.09,181.86 L234.79,182.15 L235.48,182.43 L236.18,182.72 L236.88,183.00 L237.58,183.29 L238.28,183.57 L238.98,183.86 L239.68,184.14 L240.38,184.42 L241.08,184.70 L241.78,184.98 L242.47,185.26 L243.17,185.54 L243.87,185.82 L244.57,186.10 L245.27,186.38 L245.97,186.66 L246.67,186.94 L247.37,187.21 L248.07,187.49 L248.77,187.76 L249.46,188.04 L250.16,188.31 L250.86,188.59 L251.56,188.86 L252.26,189.13 L252.96,189.41 L253.66,189.68 L254.36,189.95 L255.06,190.22 L255.75,190.49 L256.45,190.76 L257.15,191.03 L257.85,191.30 L258.55,191.56 L259.25,191.83 L259.95,192.10 L260.65,192.36 L261.35,192.63 L262.05,192.89 L262.74,193.16 L263.44,193.42 L264.14,193.68 L264.84,193.95 L265.54,194.21 L266.24,194.47 L266.94,194.73 L267.64,194.99 L268.34,195.25 L269.04,195.51 L269.73,195.77 L270.43,196.03 L271.13,196.29 L271.83,196.55 L272.53,196.80 L273.23,197.06 L273.93,197.32 L274.63,197.57 L275.33,197.83 L276.03,198.08 L276.72,198.33 L277.42,198.59 L278.12,198.84 L278.82,199.09 L279.52,199.35 L280.22,199.60 L280.92,199.85 L281.62,200.10 L282.32,200.35 L283.01,200.60 L283.71,200.85 L284.41,201.09 L285.11,201.34 L285.81,201.59 L286.51,201.84 L287.21,202.08 L287.91,202.33 L288.61,202.57 L289.31,202.82 L290.00,203.06 L290.70,203.31 L291.40,203.55 L292.10,203.79 L292.80,204.04 L293.50,204.28 L294.20,204.52 L294.90,204.76 L295.60,205.00 L296.30,205.24 L296.99,205.48 L297.69,205.72 L298.39,205.96 L299.09,206.20 L299.79,206.43 L300.49,206.67 L301.19,206.91 L301.89,207.14 L302.59,207.38 L303.29,207.61 L303.98,207.85 L304.68,208.08 L305.38,208.32 L306.08,208.55 L306.78,208.78 L307.48,209.02 L308.18,209.25 L308.88,209.48 L309.58,209.71 L310.28,209.94 L310.97,210.17 L311.67,210.40 L312.37,210.63 L313.07,210.86 L313.77,211.09 L314.47,211.32 L315.17,211.54 L315.87,211.77 L316.57,212.00 L317.26,212.22 L317.96,212.45 L318.66,212.67 L319.36,212.90 L320.06,213.12 L320.76,213.35 L321.46,213.57 L322.16,213.79 L322.86,214.02 L323.56,214.24 L324.25,214.46 L324.95,214.68 L325.65,214.90 L326.35,215.12 L327.05,215.34 L327.75,215.56 L328.45,215.78 L329.15,216.00 L329.85,216.22 L330.55,216.44 L331.24,216.65" stroke="rgb(191,28,115)"/>
<path d="M98.20,39.00 L98.40,40.75 L98.60,42.46 L98.81,44.13 L99.01,45.77 L99.21,47.37 L99.41,48.94 L99.61,50.47 L99.82,51.96 L100.02,53.43 L100.22,54.86 L100.42,56.26 L100.63,57.64 L100.83,58.98 L101.03,60.29 L101.23,61.58 L101.43,62.84 L101.64,64.07 L101.84,65.28 L102.04,66.46 L102.24,67.62 L102.44,68.75 L102.65,69.86 L102.85,70.95 L103.05,72.02 L103.25,73.06 L103.45,74.08 L103.66,75.09 L103.86,76.07 L104.06,77.03 L104.26,77.98 L104.47,78.90 L104.67,79.81 L104.87,80.70 L105.07,81.58 L105.27,82.43 L105.48,83.27 L105.68,84.10 L105.88,84.91 L106.08,85.70 L106.28,86.48 L106.49,87.24 L106.69,88.00 L106.89,88.73 L107.09,89.46 L107.29,90.17 L107.50,90.87 L107.70,91.55 L107.90,92.22 L108.10,92.89 L108.31,93.54 L108.51,94.18 L108.71,94.80 L108.91,95.42 L109.11,96.03 L109.32,96.62 L109.52,97.21 L109.72,97.79 L109.92,98.36 L110.12,98.92 L110.33,99.46 L110.53,100.01 L110.73,100.54 L110.93,101.06 L111.13,101.58 L111.34,102.08 L111.54,102.58 L111.74,103.08 L111.94,103.56 L112.14,104.04 L112.35,104.51 L112.55,104.97 L112.75,105.43 L112.95,105.88 L113.16,106.32 L113.36,106.76 L113.56,107.19 L113.76,107.61 L113.96,108.03 L114.17,108.45 L114.37,108.85 L114.57,109.25 L114.77,109.65 L114.97,110.04 L115.18,110.43 L115.38,110.81 L115.58,111.19 L115.78,111.56 L115.98,111.93 L116.19,112.29 L116.39,112.65 L116.59,113.00 L116.79,113.35 L117.00,113.69 L117.20,114.03 L117.40,114.37 L117.60,114.70 L117.80,115.03 L118.01,115.36 L118.21,115.68 L118.41,116.00 L118.61,116.31 L118.81,116.62 L119.02,116.93 L119.22,117.23 L119.42,117.53 L119.62,117.83 L119.82,118.13 L120.03,118.42 L120.23,118.71 L120.43,118.99 L120.63,119.28 L120.84,119.56 L121.04,119.83 L121.24,120.11 L121.44,120.38 L121.64,120.65 L121.85,120.92 L122.05,121.18 L122.25,121.45 L122.82,122.17 L123.38,122.87 L123.95,123.56 L124.51,124.23 L125.08,124.89 L125.64,125.53 L126.21,126.16 L126.77,126.78 L127.34,127.38 L127.90,127.97 L128.47,128.56 L129.04,129.13 L129.60,129.69 L130.17,130.24 L130.73,130.79 L131.30,131.32 L131.86,131.85 L132.43,132.37 L132.99,132.88 L133.56,133.39 L134.12,133.89 L134.69,134.38 L135.26,134.86 L135.82,135.34 L136.39,135.82 L136.95,136.29 L137.52,136.75 L138.08,137.21 L138.65,137.66 L139.21,138.11 L139.78,138.55 L140.34,138.99 L140.91,139.43 L141.48,139.86 L142.04,140.29 L142.61,140.71 L143.17,141.13 L143.74,141.55 L144.30,141.96 L144.87,142.37 L145.43,142.78 L146.00,143.19 L146.56,143.59 L147.13,143.99 L147.70,144.38 L148.26,144.77 L148.83,145.16 L149.39,145.55 L149.96,145.94 L150.52,146.32 L151.09,146.70 L151.65,147.08 L152.22,147.45 L152.78,147.83 L153.35,148.20 L153.92,148.57 L154.48,148.93 L155.05,149.30 L155.61,149.66 L156.18,150.03 L156.74,150.39 L157.31,150.74 L157.87,151.10 L158.44,151.45 L159.00,151.81 L159.57,152.16 L160.14,152.51 L160.70,152.86 L161.27,153.20 L161.83,153.55 L162.40,153.89 L162.96,154.24 L163.53,154.58 L164.09,154.92 L164.66,155.26 L165.22,155.59 L165.79,155.93 L166.36,156.26 L166.92,156.60 L167.49,156.93 L168.05,157.26 L168.62,157.59 L169.18,157.92 L169.75,158.25 L170.31,158.57 L170.88,158.90 L171.44,159.22 L172.01,159.55 L172.58,159.87 L173.14,160.19 L173.71,160.51 L174.27,160.83 L174.84,161.15 L175.40,161.47 L175.97,161.78 L176.53,162.10 L177.10,162.42 L177.66,162.73 L178.23,163.04 L178.80,163.36 L179.36,163.67 L179.93,163.98 L180.49,164.29 L181.06,164.60 L181.62,164.91 L182.19,165.21 L182.75,165.52 L183.32,165.83 L183.88,166.13 L184.45,166.44 L185.02,166.74 L185.58,167.04 L186.15,167.35 L186.71,167.65 L187.28,167.95 L187.84,168.25 L188.41,168.55 L188.97,168.85 L189.54,169.15 L190.10,169.45 L190.67,169.74 L191.24,170.04 L191.80,170.34 L192.37,170.63 L192.93,170.93 L193.50,171.22 L194.06,171.52 L194.63,171.81 L195.19,172.10 L195.76,172.39 L196.32,172.69 L196.89,172.98 L197.46,173.27 L198.02,173.56 L198.59,173.85 L199.15,174.14 L199.72,174.43 L200.28,174.71 L200.85,175.00 L201.41,175.29 L201.98,175.58 L202.54,175.86 L203.11,176.15 L203.68,176.43 L204.24,176.72 L204.81,177.00 L205.37,177.29 L205.94,177.57 L206.50,177.85 L207.07,178.14 L207.63,178.42 L208.20,178.70 L208.76,178.98 L209.33,179.26 L209.90,179.54 L210.46,179.83 L211.03,180.10 L211.59,180.38 L212.16,180.66 L212.72,180.94 L213.29,181.22 L213.85,181.50 L214.42,181.78 L214.98,182.05 L215.55,182.33 L216.12,182.61 L216.68,182.88 L217.25,183.16 L217.81,183.44 L218.38,183.71 L218.94,183.99 L219.51,184.26 L220.07,184.53 L220.64,184.81 L221.20,185.08 L221.77,185.36 L222.34,185.63 L222.90,185.90 L223.47,186.17 L224.03,186.45 L224.60,186.72 L225.16,186.99 L225.73,187.26 L226.29,187.53 L226.86,187.80 L227.42,188.07 L227.99,188.34 L228.56,188.61 L229.12,188.88 L229.69,189.15 L230.25,189.42 L230.82,189.69 L231.38,189.96 L231.95,190.23 L232.51,190.49 L233.08,190.76 L233.64,191.03 L234.21,191.30 L234.78,191.56 L235.34,191.83 L235.91,192.10 L236.47,192.36 L237.04,192.63 L237.60,192.90 L238.17,193.16 L238.73,193.43 L239.30,193.69 L239.86,193.96 L240.43,194.22 L241.00,194.49 L241.56,194.75 L242.13,195.01 L242.69,195.28 L243.26,195.54 L243.82,195.81 L244.39,196.07 L244.95,196.33 L245.52,196.59 L246.08,196.86 L246.65,197.12 L247.22,197.38 L247.78,197.64 L248.35,197.91 L248.91,198.17 L249.48,198.43 L250.04,198.69 L250.61,198.95 L251.17,199.21 L251.74,199.47 L252.30,199.73 L252.87,199.99 L253.44,200.25 L254.00,200.51 L254.57,200.77 L255.13,201.03 L255.70,201.29 L256.26,201.55 L256.83,201.81 L257.39,202.07 L257.96,202.33 L258.53,202.59 L259.09,202.85 L259.66,203.11 L260.22,203.36 L260.79,203.62 L261.35,203.88 L261.92,204.14 L262.48,204.40 L263.05,204.65 L263.61,204.91 L264.18,205.17 L264.75,205.43 L265.31,205.68 L265.88,205.94 L266.44,206.20 L267.01,206.45 L267.57,206.71 L268.14,206.97 L268.70,207.22 L269.27,207.48 L269.83,207.73 L270.40,207.99 L270.97,208.25 L271.53,208.50 L272.10,208.76 L272.66,209.01 L273.23,209.27 L273.79,209.52 L274.36,209.78 L274.92,210.03 L275.49,210.29 L276.05,210.54 L276.62,210.80 L277.19,211.05 L277.75,211.30 L278.32,211.56 L278.88,211.81 L279.45,212.07 L280.01,212.32 L280.58,212.57 L281.14,212.83 L281.71,213.08 L282.27,213.33 L282.84,213.59 L283.41,213.84 L283.97,214.09 L284.54,214.35 L285.10,214.60 L285.67,214.85 L286.23,215.10 L286.80,215.36 L287.36,215.61 L287.93,215.86 L288.49,216.11 L289.06,216.37 L289.63,216.62 L290.19,216.87 L290.76,217.12 L291.32,217.37" stroke="rgb(229,31,76)"/>
<path d="M98.20,39.00 L98.40,40.78 L98.60,42.52 L98.81,44.23 L99.01,45.89 L99.21,47.52 L99.41,49.11 L99.61,50.67 L99.82,52.19 L100.02,53.69 L100.22,55.14 L100.42,56.57 L100.63,57.97 L100.83,59.33 L101.03,60.67 L101.23,61.98 L101.43,63.26 L101.64,64.52 L101.84,65.74 L102.04,66.95 L102.24,68.13 L102.44,69.28 L102.65,70.41 L102.85,71.52 L103.05,72.60 L103.25,73.66 L103.45,74.70 L103.66,75.72 L103.86,76.72 L104.06,77.70 L104.26,78.66 L104.47,79.60 L104.67,80.53 L104.87,81.43 L105.07,82.32 L105.27,83.19 L105.48,84.05 L105.68,84.88 L105.88,85.71 L106.08,86.51 L106.28,87.31 L106.49,88.08 L106.69,88.84 L106.89,89.59 L107.09,90.33 L107.29,91.05 L107.50,91.76 L107.70,92.46 L107.90,93.14 L108.10,93.81 L108.31,94.47 L108.51,95.12 L108.71,95.76 L108.91,96.39 L109.11,97.00 L109.32,97.61 L109.52,98.20 L109.72,98.79 L109.92,99.37 L110.12,99.93 L110.33,100.49 L110.53,101.04 L110.73,101.58 L110.93,102.11 L111.13,102.63 L111.34,103.15 L111.54,103.66 L111.74,104.15 L111.94,104.65 L112.14,105.13 L112.35,105.61 L112.55,106.08 L112.75,106.54 L112.95,107.00 L113.16,107.45 L113.36,107.89 L113.56,108.33 L113.76,108.76 L113.96,109.18 L114.17,109.60 L114.37,110.01 L114.57,110.42 L114.77,110.82 L114.97,111.22 L115.18,111.61 L115.38,112.00 L115.58,112.38 L115.78,112.76 L115.98,113.13 L116.19,113.50 L116.39,113.86 L116.59,114.22 L116.79,114.57 L117.00,114.92 L117.20,115.27 L117.40,115.61 L117.60,115.95 L117.80,116.28 L118.01,116.61 L118.21,116.94 L118.41,117.26 L118.61,117.58 L118.81,117.89 L119.02,118.21 L119.22,118.51 L119.42,118.82 L119.62,119.12 L119.82,119.42 L120.03,119.72 L120.23,120.01 L120.43,120.30 L120.63,120.59 L120.84,120.87 L121.04,121.16 L121.24,121.44 L121.44,121.71 L121.64,121.99 L121.85,122.26 L122.05,122.53 L122.25,122.79 L122.74,123.44 L123.24,124.07 L123.73,124.68 L124.23,125.29 L124.72,125.88 L125.21,126.46 L125.71,127.03 L126.20,127.60 L126.69,128.15 L127.19,128.69 L127.68,129.23 L128.18,129.75 L128.67,130.27 L129.16,130.78 L129.66,131.29 L130.15,131.78 L130.65,132.28 L131.14,132.76 L131.63,133.24 L132.13,133.71 L132.62,134.18 L133.12,134.64 L133.61,135.10 L134.10,135.55 L134.60,136.00 L135.09,136.45 L135.58,136.89 L136.08,137.32 L136.57,137.75 L137.07,138.18 L137.56,138.61 L138.05,139.03 L138.55,139.44 L139.04,139.86 L139.54,140.27 L140.03,140.68 L140.52,141.08 L141.02,141.49 L141.51,141.89 L142.00,142.28 L142.50,142.68 L142.99,143.07 L143.49,143.46 L143.98,143.85 L144.47,144.24 L144.97,144.62 L145.46,145.00 L145.96,145.38 L146.45,145.76 L146.94,146.14 L147.44,146.51 L147.93,146.88 L148.43,147.25 L148.92,147.62 L149.41,147.99 L149.91,148.36 L150.40,148.72 L150.89,149.09 L151.39,149.45 L151.88,149.81 L152.38,150.17 L152.87,150.53 L153.36,150.88 L153.86,151.24 L154.35,151.59 L154.85,151.94 L155.34,152.30 L155.83,152.65 L156.33,153.00 L156.82,153.34 L157.31,153.69 L157.81,154.04 L158.30,154.38 L158.80,154.73 L159.29,155.07 L159.78,155.41 L160.28,155.76 L160.77,156.10 L161.27,156.44 L161.76,156.78 L162.25,157.11 L162.75,157.45 L163.24,157.79 L163.74,158.12 L164.23,158.46 L164.72,158.79 L165.22,159.12 L165.71,159.46 L166.20,159.79 L166.70,160.12 L167.19,160.45 L167.69,160.78 L168.18,161.11 L168.67,161.44 L169.17,161.76 L169.66,162.09 L170.16,162.42 L170.65,162.74 L171.14,163.07 L171.64,163.39 L172.13,163.72 L172.62,164.04 L173.12,164.36 L173.61,164.68 L174.11,165.00 L174.60,165.33 L175.09,165.65 L175.59,165.97 L176.08,166.28 L176.58,166.60 L177.07,166.92 L177.56,167.24 L178.06,167.55 L178.55,167.87 L179.04,168.19 L179.54,168.50 L180.03,168.82 L180.53,169.13 L181.02,169.44 L181.51,169.76 L182.01,170.07 L182.50,170.38 L183.00,170.69 L183.49,171.00 L183.98,171.32 L184.48,171.63 L184.97,171.94 L185.47,172.24 L185.96,172.55 L186.45,172.86 L186.95,173.17 L187.44,173.48 L187.93,173.78 L188.43,174.09 L188.92,174.40 L189.42,174.70 L189.91,175.01 L190.40,175.31 L190.90,175.61 L191.39,175.92 L191.89,176.22 L192.38,176.52 L192.87,176.83 L193.37,177.13 L193.86,177.43 L194.35,177.73 L194.85,178.03 L195.34,178.33 L195.84,178.63 L196.33,178.93 L196.82,179.23 L197.32,179.53 L197.81,179.83 L198.31,180.12 L198.80,180.42 L199.29,180.72 L199.79,181.02 L200.28,181.31 L200.78,181.61 L201.27,181.90 L201.76,182.20 L202.26,182.49 L202.75,182.79 L203.24,183.08 L203.74,183.37 L204.23,183.67 L204.73,183.96 L205.22,184.25 L205.71,184.54 L206.21,184.83 L206.70,185.12 L207.20,185.41 L207.69,185.70 L208.18,185.99 L208.68,186.28 L209.17,186.57 L209.66,186.86 L210.16,187.15 L210.65,187.44 L211.15,187.72 L211.64,188.01 L212.13,188.30 L212.63,188.59 L213.12,188.87 L213.62,189.16 L214.11,189.44 L214.60,189.73 L215.10,190.01 L215.59,190.30 L216.09,190.58 L216.58,190.86 L217.07,191.15 L217.57,191.43 L218.06,191.71 L218.55,191.99 L219.05,192.27 L219.54,192.56 L220.04,192.84 L220.53,193.12 L221.02,193.40 L221.52,193.68 L222.01,193.96 L222.51,194.23 L223.00,194.51 L223.49,194.79 L223.99,195.07 L224.48,195.35 L224.97,195.62 L225.47,195.90 L225.96,196.18 L226.46,196.45 L226.95,196.73 L227.44,197.01 L227.94,197.28 L228.43,197.56 L228.93,197.83 L229.42,198.10 L229.91,198.38 L230.41,198.65 L230.90,198.92 L231.40,199.20 L231.89,199.47 L232.38,199.74 L232.88,200.01 L233.37,200.28 L233.86,200.56 L234.36,200.83 L234.85,201.10 L235.35,201.37 L235.84,201.64 L236.33,201.91 L236.83,202.17 L237.32,202.44 L237.82,202.71 L238.31,202.98 L238.80,203.25 L239.30,203.51 L239.79,203.78 L240.28,204.05 L240.78,204.31 L241.27,204.58 L241.77,204.85 L242.26,205.11 L242.75,205.38 L243.25,205.64 L243.74,205.91 L244.24,206.17 L244.73,206.43 L245.22,206.70 L245.72,206.96 L246.21,207.22 L246.71,207.49 L247.20,207.75 L247.69,208.01 L248.19,208.27 L248.68,208.53 L249.17,208.79 L249.67,209.05 L250.16,209.31 L250.66,209.57 L251.15,209.83 L251.64,210.09 L252.14,210.35 L252.63,210.61 L253.13,210.87 L253.62,211.13 L254.11,211.38 L254.61,211.64 L255.10,211.90 L255.59,212.15 L256.09,212.41 L256.58,212.67 L257.08,212.92 L257.57,213.18 L258.06,213.43 L258.56,213.69 L259.05,213.94 L259.55,214.20 L260.04,214.45 L260.53,214.70 L261.03,214.96 L261.52,215.21 L262.02,215.46 L262.51,215.71 L263.00,215.97 L263.50,216.22 L263.99,216.47 L264.48,216.72 L264.98,216.97 L265.47,217.22 L265.97,217.47 L266.46,217.72 L266.95,217.97 L267.45,218.22 L267.94,218.47 L268.44,218.72 L268.93,218.97 L269.42,219.22 L269.92,219.46" stroke="rgb(255,35,38)"/>
<path d="M98.20,39.00 L98.40,40.82 L98.60,42.59 L98.81,44.33 L99.01,46.03 L99.21,47.70 L99.41,49.32 L99.61,50.92 L99.82,52.48 L100.02,54.00 L100.22,55.49 L100.42,56.96 L100.63,58.39 L100.83,59.79 L101.03,61.16 L101.23,62.50 L101.43,63.82 L101.64,65.11 L101.84,66.37 L102.04,67.61 L102.24,68.82 L102.44,70.01 L102.65,71.17 L102.85,72.31 L103.05,73.43 L103.25,74.52 L103.45,75.60 L103.66,76.65 L103.86,77.68 L104.06,78.70 L104.26,79.69 L104.47,80.66 L104.67,81.62 L104.87,82.56 L105.07,83.48 L105.27,84.38 L105.48,85.27 L105.68,86.14 L105.88,87.00 L106.08,87.83 L106.28,88.66 L106.49,89.47 L106.69,90.26 L106.89,91.04 L107.09,91.81 L107.29,92.56 L107.50,93.30 L107.70,94.03 L107.90,94.75 L108.10,95.45 L108.31,96.14 L108.51,96.82 L108.71,97.49 L108.91,98.15 L109.11,98.80 L109.32,99.43 L109.52,100.06 L109.72,100.67 L109.92,101.28 L110.12,101.88 L110.33,102.47 L110.53,103.04 L110.73,103.61 L110.93,104.18 L111.13,104.73 L111.34,105.27 L111.54,105.81 L111.74,106.34 L111.94,106.86 L112.14,107.37 L112.35,107.88 L112.55,108.38 L112.75,108.87 L112.95,109.35 L113.16,109.83 L113.36,110.30 L113.56,110.77 L113.76,111.23 L113.96,111.68 L114.17,112.13 L114.37,112.57 L114.57,113.01 L114.77,113.44 L114.97,113.86 L115.18,114.28 L115.38,114.69 L115.58,115.10 L115.78,115.51 L115.98,115.91 L116.19,116.30 L116.39,116.69 L116.59,117.07 L116.79,117.46 L117.00,117.83 L117.20,118.20 L117.40,118.57 L117.60,118.94 L117.80,119.30 L118.01,119.65 L118.21,120.00 L118.41,120.35 L118.61,120.70 L118.81,121.04 L119.02,121.38 L119.22,121.71 L119.42,122.04 L119.62,122.37 L119.82,122.69 L120.03,123.01 L120.23,123.33 L120.43,123.65 L120.63,123.96 L120.84,124.27 L121.04,124.58 L121.24,124.88 L121.44,125.18 L121.64,125.48 L121.85,125.77 L122.05,126.07 L122.25,126.36 L122.66,126.95 L123.08,127.52 L123.49,128.09 L123.90,128.65 L124.32,129.20 L124.73,129.74 L125.14,130.27 L125.56,130.80 L125.97,131.32 L126.38,131.83 L126.80,132.33 L127.21,132.83 L127.62,133.32 L128.04,133.81 L128.45,134.28 L128.86,134.76 L129.28,135.23 L129.69,135.69 L130.11,136.14 L130.52,136.60 L130.93,137.04 L131.35,137.49 L131.76,137.93 L132.17,138.36 L132.59,138.79 L133.00,139.22 L133.41,139.64 L133.83,140.06 L134.24,140.47 L134.65,140.88 L135.07,141.29 L135.48,141.70 L135.89,142.10 L136.31,142.50 L136.72,142.89 L137.13,143.28 L137.55,143.67 L137.96,144.06 L138.37,144.44 L138.79,144.83 L139.20,145.20 L139.61,145.58 L140.03,145.96 L140.44,146.33 L140.85,146.70 L141.27,147.07 L141.68,147.43 L142.09,147.80 L142.51,148.16 L142.92,148.52 L143.34,148.88 L143.75,149.23 L144.16,149.59 L144.58,149.94 L144.99,150.29 L145.40,150.64 L145.82,150.99 L146.23,151.33 L146.64,151.68 L147.06,152.02 L147.47,152.36 L147.88,152.70 L148.30,153.04 L148.71,153.38 L149.12,153.72 L149.54,154.05 L149.95,154.39 L150.36,154.72 L150.78,155.05 L151.19,155.38 L151.60,155.71 L152.02,156.04 L152.43,156.37 L152.84,156.69 L153.26,157.02 L153.67,157.34 L154.08,157.67 L154.50,157.99 L154.91,158.31 L155.32,158.63 L155.74,158.95 L156.15,159.27 L156.57,159.59 L156.98,159.91 L157.39,160.22 L157.81,160.54 L158.22,160.85 L158.63,161.17 L159.05,161.48 L159.46,161.79 L159.87,162.10 L160.29,162.41 L160.70,162.73 L161.11,163.04 L161.53,163.34 L161.94,163.65 L162.35,163.96 L162.77,164.27 L163.18,164.58 L163.59,164.88 L164.01,165.19 L164.42,165.49 L164.83,165.80 L165.25,166.10 L165.66,166.40 L166.07,166.71 L166.49,167.01 L166.90,167.31 L167.31,167.61 L167.73,167.91 L168.14,168.21 L168.55,168.51 L168.97,168.81 L169.38,169.11 L169.79,169.41 L170.21,169.71 L170.62,170.01 L171.04,170.31 L171.45,170.60 L171.86,170.90 L172.28,171.20 L172.69,171.49 L173.10,171.79 L173.52,172.08 L173.93,172.38 L174.34,172.67 L174.76,172.97 L175.17,173.26 L175.58,173.55 L176.00,173.85 L176.41,174.14 L176.82,174.43 L177.24,174.72 L177.65,175.02 L178.06,175.31 L178.48,175.60 L178.89,175.89 L179.30,176.18 L179.72,176.47 L180.13,176.76 L180.54,177.05 L180.96,177.34 L181.37,177.63 L181.78,177.92 L182.20,178.21 L182.61,178.50 L183.02,178.78 L183.44,179.07 L183.85,179.36 L184.27,179.65 L184.68,179.94 L185.09,180.22 L185.51,180.51 L185.92,180.80 L186.33,181.08 L186.75,181.37 L187.16,181.66 L187.57,181.94 L187.99,182.23 L188.40,182.51 L188.81,182.80 L189.23,183.09 L189.64,183.37 L190.05,183.66 L190.47,183.94 L190.88,184.22 L191.29,184.51 L191.71,184.79 L192.12,185.08 L192.53,185.36 L192.95,185.65 L193.36,185.93 L193.77,186.21 L194.19,186.50 L194.60,186.78 L195.01,187.06 L195.43,187.35 L195.84,187.63 L196.25,187.91 L196.67,188.19 L197.08,188.48 L197.50,188.76 L197.91,189.04 L198.32,189.32 L198.74,189.60 L199.15,189.89 L199.56,190.17 L199.98,190.45 L200.39,190.73 L200.80,191.01 L201.22,191.29 L201.63,191.57 L202.04,191.85 L202.46,192.13 L202.87,192.42 L203.28,192.70 L203.70,192.98 L204.11,193.26 L204.52,193.54 L204.94,193.82 L205.35,194.10 L205.76,194.38 L206.18,194.66 L206.59,194.94 L207.00,195.22 L207.42,195.50 L207.83,195.78 L208.24,196.06 L208.66,196.34 L209.07,196.61 L209.48,196.89 L209.90,197.17 L210.31,197.45 L210.73,197.73 L211.14,198.01 L211.55,198.29 L211.97,198.57 L212.38,198.85 L212.79,199.12 L213.21,199.40 L213.62,199.68 L214.03,199.96 L214.45,200.24 L214.86,200.52 L215.27,200.79 L215.69,201.07 L216.10,201.35 L216.51,201.63 L216.93,201.91 L217.34,202.18 L217.75,202.46 L218.17,202.74 L218.58,203.02 L218.99,203.30 L219.41,203.57 L219.82,203.85 L220.23,204.13 L220.65,204.41 L221.06,204.68 L221.47,204.96 L221.89,205.24 L222.30,205.51 L222.71,205.79 L223.13,206.07 L223.54,206.35 L223.95,206.62 L224.37,206.90 L224.78,207.18 L225.20,207.45 L225.61,207.73 L226.02,208.01 L226.44,208.28 L226.85,208.56 L227.26,208.84 L227.68,209.11 L228.09,209.39 L228.50,209.67 L228.92,209.94 L229.33,210.22 L229.74,210.50 L230.16,210.77 L230.57,211.05 L230.98,211.33 L231.40,211.60 L231.81,211.88 L232.22,212.15 L232.64,212.43 L233.05,212.71 L233.46,212.98 L233.88,213.26 L234.29,213.53 L234.70,213.81 L235.12,214.09 L235.53,214.36 L235.94,214.64 L236.36,214.91 L236.77,215.19 L237.18,215.47 L237.60,215.74 L238.01,216.02 L238.43,216.29 L238.84,216.57 L239.25,216.84 L239.67,217.12 L240.08,217.40 L240.49,217.67 L240.91,217.95 L241.32,218.22 L241.73,218.50 L242.15,218.77 L242.56,219.05 L242.97,219.32 L243.39,219.60 L243.80,219.88 L244.21,220.15 L244.63,220.43 L245.04,220.70 L245.45,220.98 L245.87,221.25" stroke="rgb(255,40,0)"/>
</g>
<path d="M98.2,212.2 V38.8 H338.7 V212.2 H97.5" fill="none" stroke="#000" stroke-width="1.3"/>
<path d="M98.2,75.70 h3.1 M98.2,66.45 h3.1 M98.2,59.89 h3.1 M98.2,54.80 h3.1 M98.2,50.65 h3.1 M98.2,47.13 h3.1 M98.2,44.09 h3.1 M98.2,41.40 h3.1 M98.2,91.50 h6.2 M98.2,128.20 h3.1 M98.2,118.95 h3.1 M98.2,112.39 h3.1 M98.2,107.30 h3.1 M98.2,103.15 h3.1 M98.2,99.63 h3.1 M98.2,96.59 h3.1 M98.2,93.90 h3.1 M98.2,144.00 h6.2 M98.2,180.70 h3.1 M98.2,171.45 h3.1 M98.2,164.89 h3.1 M98.2,159.80 h3.1 M98.2,155.65 h3.1 M98.2,152.13 h3.1 M98.2,149.09 h3.1 M98.2,146.40 h3.1 M98.2,196.50 h6.2 M98.2,208.15 h3.1 M98.2,204.63 h3.1 M98.2,201.59 h3.1 M98.2,198.90 h3.1" stroke="#000" stroke-width="1.2" fill="none"/>
<path d="M146.30,212.2 v-5.5 M194.40,212.2 v-5.5 M242.50,212.2 v-5.5 M290.60,212.2 v-5.5" stroke="#000" stroke-width="1.2" fill="none"/>
<text x="88.6" y="44.5" font-size="16" text-anchor="end">1</text>
<text x="88.6" y="97.0" font-size="16" text-anchor="end">0.1</text>
<text x="88.6" y="149.5" font-size="16" text-anchor="end">0.01</text>
<text x="88.6" y="202.0" font-size="16" text-anchor="end">0.001</text>
<text x="99.6" y="231.9" font-size="16" text-anchor="middle">0</text>
<text x="147.7" y="231.9" font-size="16" text-anchor="middle">20</text>
<text x="195.8" y="231.9" font-size="16" text-anchor="middle">40</text>
<text x="243.9" y="231.9" font-size="16" text-anchor="middle">60</text>
<text x="292.0" y="231.9" font-size="16" text-anchor="middle">80</text>
<text x="340.1" y="231.9" font-size="16" text-anchor="middle">100</text>
<text x="195" y="254.5" font-size="16">t / τ<tspan font-size="11" dy="2.2">corr</tspan></text>
<text transform="translate(43.4,148.9) rotate(-90)" font-size="16">P<tspan font-size="10.5" dy="2.0">1</tspan><tspan dy="-2.0">(t) / P</tspan><tspan font-size="10.5" dy="2.0">0</tspan></text>
<text x="137.6" y="109.6" font-size="12.8">T=0.45</text>
<text x="116.8" y="166.8" font-size="13">T=1</text>
<rect x="227.6" y="13.399999999999999" width="134.00000000000003" height="120.29999999999998" fill="#fff"/>
<rect x="223.6" y="17.4" width="6" height="12" fill="#fff"/>
<g clip-path="url(#ci)">
<path d="M227.91,60.28h3.40M229.61,58.58v3.40 M227.99,60.73h3.40M229.69,59.03v3.40 M228.07,61.17h3.40M229.77,59.47v3.40 M228.14,61.61h3.40M229.84,59.91v3.40 M228.22,62.06h3.40M229.92,60.36v3.40 M228.29,62.50h3.40M229.99,60.80v3.40 M228.37,62.94h3.40M230.07,61.24v3.40 M228.44,63.39h3.40M230.14,61.69v3.40 M228.52,63.83h3.40M230.22,62.13v3.40 M228.59,64.28h3.40M230.29,62.58v3.40 M228.67,64.72h3.40M230.37,63.02v3.40 M228.74,65.16h3.40M230.44,63.46v3.40 M228.82,65.61h3.40M230.52,63.91v3.40 M228.89,66.05h3.40M230.59,64.35v3.40 M228.97,66.49h3.40M230.67,64.79v3.40 M229.04,66.94h3.40M230.74,65.24v3.40 M229.12,67.38h3.40M230.82,65.68v3.40 M229.20,67.82h3.40M230.90,66.12v3.40 M229.27,68.27h3.40M230.97,66.57v3.40 M229.35,68.71h3.40M231.05,67.01v3.40 M229.42,69.16h3.40M231.12,67.46v3.40 M229.50,69.60h3.40M231.20,67.90v3.40 M229.57,70.04h3.40M231.27,68.34v3.40 M229.65,70.49h3.40M231.35,68.79v3.40 M229.72,70.93h3.40M231.42,69.23v3.40 M229.80,71.37h3.40M231.50,69.67v3.40 M229.87,71.82h3.40M231.57,70.12v3.40 M229.95,72.26h3.40M231.65,70.56v3.40 M230.02,72.70h3.40M231.72,71.00v3.40 M230.10,73.15h3.40M231.80,71.45v3.40 M230.18,73.59h3.40M231.88,71.89v3.40 M230.25,74.04h3.40M231.95,72.34v3.40 M230.33,74.48h3.40M232.03,72.78v3.40 M230.40,74.92h3.40M232.10,73.22v3.40 M230.48,75.37h3.40M232.18,73.67v3.40 M230.55,75.81h3.40M232.25,74.11v3.40 M230.63,76.25h3.40M232.33,74.55v3.40 M230.70,76.70h3.40M232.40,75.00v3.40 M230.78,77.14h3.40M232.48,75.44v3.40 M230.85,77.58h3.40M232.55,75.88v3.40 M230.93,78.03h3.40M232.63,76.33v3.40 M231.00,78.47h3.40M232.70,76.77v3.40 M231.08,78.92h3.40M232.78,77.22v3.40 M231.15,79.36h3.40M232.85,77.66v3.40 M231.23,79.80h3.40M232.93,78.10v3.40 M231.31,80.25h3.40M233.01,78.55v3.40 M231.38,80.69h3.40M233.08,78.99v3.40 M231.46,81.13h3.40M233.16,79.43v3.40 M231.53,81.58h3.40M233.23,79.88v3.40 M231.61,82.02h3.40M233.31,80.32v3.40 M231.68,82.47h3.40M233.38,80.77v3.40 M231.76,82.91h3.40M233.46,81.21v3.40 M231.83,83.35h3.40M233.53,81.65v3.40 M231.91,83.80h3.40M233.61,82.10v3.40 M231.98,84.24h3.40M233.68,82.54v3.40 M232.06,84.68h3.40M233.76,82.98v3.40 M232.13,85.13h3.40M233.83,83.43v3.40 M232.21,85.57h3.40M233.91,83.87v3.40 M232.29,86.01h3.40M233.99,84.31v3.40 M232.36,86.46h3.40M234.06,84.76v3.40 M232.44,86.90h3.40M234.14,85.20v3.40 M232.51,87.35h3.40M234.21,85.65v3.40 M232.59,87.79h3.40M234.29,86.09v3.40 M232.66,88.23h3.40M234.36,86.53v3.40 M232.74,88.68h3.40M234.44,86.98v3.40 M232.81,89.12h3.40M234.51,87.42v3.40 M232.89,89.56h3.40M234.59,87.86v3.40 M232.96,90.01h3.40M234.66,88.31v3.40 M233.04,90.45h3.40M234.74,88.75v3.40 M233.11,90.89h3.40M234.81,89.19v3.40 M233.19,91.34h3.40M234.89,89.64v3.40 M233.26,91.78h3.40M234.96,90.08v3.40 M233.34,92.22h3.40M235.04,90.52v3.40 M233.42,92.67h3.40M235.12,90.97v3.40 M233.50,93.11h3.40M235.20,91.41v3.40 M233.58,93.55h3.40M235.28,91.85v3.40 M233.66,94.00h3.40M235.36,92.30v3.40 M233.75,94.44h3.40M235.45,92.74v3.40 M233.83,94.88h3.40M235.53,93.18v3.40 M233.92,95.32h3.40M235.62,93.62v3.40 M234.01,95.76h3.40M235.71,94.06v3.40 M234.09,96.20h3.40M235.79,94.50v3.40 M234.18,96.65h3.40M235.88,94.95v3.40 M234.26,97.09h3.40M235.96,95.39v3.40 M234.35,97.53h3.40M236.05,95.83v3.40 M234.44,97.97h3.40M236.14,96.27v3.40 M234.52,98.41h3.40M236.22,96.71v3.40 M234.61,98.86h3.40M236.31,97.16v3.40 M234.69,99.30h3.40M236.39,97.60v3.40 M234.78,99.74h3.40M236.48,98.04v3.40 M234.87,100.18h3.40M236.57,98.48v3.40 M234.95,100.62h3.40M236.65,98.92v3.40 M235.04,101.06h3.40M236.74,99.36v3.40 M235.12,101.51h3.40M236.82,99.81v3.40 M235.21,101.95h3.40M236.91,100.25v3.40 M235.30,102.39h3.40M237.00,100.69v3.40 M235.38,102.83h3.40M237.08,101.13v3.40 M235.47,103.27h3.40M237.17,101.57v3.40 M235.55,103.71h3.40M237.25,102.01v3.40 M235.64,104.16h3.40M237.34,102.46v3.40 M235.73,104.60h3.40M237.43,102.90v3.40 M235.81,105.04h3.40M237.51,103.34v3.40 M235.90,105.48h3.40M237.60,103.78v3.40 M235.98,105.92h3.40M237.68,104.22v3.40 M236.07,106.36h3.40M237.77,104.66v3.40 M236.16,106.81h3.40M237.86,105.11v3.40 M236.24,107.25h3.40M237.94,105.55v3.40 M236.33,107.69h3.40M238.03,105.99v3.40 M236.42,108.13h3.40M238.12,106.43v3.40 M236.50,108.57h3.40M238.20,106.87v3.40 M236.59,109.01h3.40M238.29,107.31v3.40 M236.67,109.46h3.40M238.37,107.76v3.40 M236.76,109.90h3.40M238.46,108.20v3.40 M236.85,110.34h3.40M238.55,108.64v3.40 M236.93,110.78h3.40M238.63,109.08v3.40 M237.02,111.22h3.40M238.72,109.52v3.40 M237.10,111.66h3.40M238.80,109.96v3.40 M237.19,112.11h3.40M238.89,110.41v3.40 M237.28,112.55h3.40M238.98,110.85v3.40 M237.36,112.99h3.40M239.06,111.29v3.40 M237.45,113.43h3.40M239.15,111.73v3.40 M237.53,113.87h3.40M239.23,112.17v3.40 M237.62,114.31h3.40M239.32,112.61v3.40 M237.71,114.76h3.40M239.41,113.06v3.40 M237.79,115.20h3.40M239.49,113.50v3.40 M237.88,115.64h3.40M239.58,113.94v3.40 M237.96,116.08h3.40M239.66,114.38v3.40 M238.05,116.52h3.40M239.75,114.82v3.40 M238.14,116.96h3.40M239.84,115.26v3.40 M238.22,117.41h3.40M239.92,115.71v3.40 M238.31,117.85h3.40M240.01,116.15v3.40 M238.39,118.29h3.40M240.09,116.59v3.40 M238.48,118.73h3.40M240.18,117.03v3.40 M238.57,119.17h3.40M240.27,117.47v3.40 M238.65,119.61h3.40M240.35,117.91v3.40 M238.74,120.06h3.40M240.44,118.36v3.40 M238.82,120.50h3.40M240.52,118.80v3.40 M238.91,120.94h3.40M240.61,119.24v3.40 M239.00,121.38h3.40M240.70,119.68v3.40 M239.08,121.82h3.40M240.78,120.12v3.40 M239.17,122.26h3.40M240.87,120.56v3.40 M239.26,122.71h3.40M240.96,121.01v3.40 M239.34,123.15h3.40M241.04,121.45v3.40 M239.43,123.59h3.40M241.13,121.89v3.40 M239.51,124.03h3.40M241.21,122.33v3.40 M239.60,124.47h3.40M241.30,122.77v3.40 M239.69,124.91h3.40M241.39,123.21v3.40 M239.77,125.36h3.40M241.47,123.66v3.40 M239.86,125.80h3.40M241.56,124.10v3.40 M239.94,126.24h3.40M241.64,124.54v3.40 M240.03,126.68h3.40M241.73,124.98v3.40 M240.12,127.12h3.40M241.82,125.42v3.40 M240.20,127.57h3.40M241.90,125.87v3.40 M240.29,128.01h3.40M241.99,126.31v3.40 M240.37,128.45h3.40M242.07,126.75v3.40 M240.46,128.89h3.40M242.16,127.19v3.40 M240.55,129.33h3.40M242.25,127.63v3.40 M240.63,129.77h3.40M242.33,128.07v3.40 M240.72,130.22h3.40M242.42,128.52v3.40 M240.80,130.66h3.40M242.50,128.96v3.40 M240.89,131.10h3.40M242.59,129.40v3.40 M240.98,131.54h3.40M242.68,129.84v3.40 M241.06,131.98h3.40M242.76,130.28v3.40 M241.15,132.42h3.40M242.85,130.72v3.40 M241.23,132.87h3.40M242.93,131.17v3.40 M241.32,133.31h3.40M243.02,131.61v3.40 M241.41,133.75h3.40M243.11,132.05v3.40 M241.49,134.19h3.40M243.19,132.49v3.40" stroke="#1438ff" stroke-width="0.9" fill="none"/>
<path d="M230.17,58.64l1.75,3.32h-3.50z M230.28,59.23l1.75,3.32h-3.50z M230.39,59.82l1.75,3.32h-3.50z M230.51,60.41l1.75,3.32h-3.50z M230.62,61.00l1.75,3.32h-3.50z M230.74,61.59l1.75,3.32h-3.50z M230.86,62.17l1.75,3.32h-3.50z M230.99,62.76l1.75,3.32h-3.50z M231.11,63.35l1.75,3.32h-3.50z M231.24,63.93l1.75,3.32h-3.50z M231.36,64.52l1.75,3.32h-3.50z M231.50,65.11l1.75,3.32h-3.50z M231.64,65.69l1.75,3.32h-3.50z M231.78,66.27l1.75,3.32h-3.50z M231.94,66.85l1.75,3.32h-3.50z M232.10,67.43l1.75,3.32h-3.50z M232.27,68.00l1.75,3.32h-3.50z M232.46,68.57l1.75,3.32h-3.50z M232.65,69.14l1.75,3.32h-3.50z M232.85,69.71l1.75,3.32h-3.50z M233.06,70.27l1.75,3.32h-3.50z M233.27,70.83l1.75,3.32h-3.50z M233.50,71.39l1.75,3.32h-3.50z M233.69,71.95l1.75,3.32h-3.50z M233.89,72.52l1.75,3.32h-3.50z M234.08,73.09l1.75,3.32h-3.50z M234.28,73.66l1.75,3.32h-3.50z M234.47,74.22l1.75,3.32h-3.50z M234.67,74.79l1.75,3.32h-3.50z M234.86,75.36l1.75,3.32h-3.50z M235.05,75.93l1.75,3.32h-3.50z M235.25,76.50l1.75,3.32h-3.50z M235.44,77.06l1.75,3.32h-3.50z M235.64,77.63l1.75,3.32h-3.50z M235.83,78.20l1.75,3.32h-3.50z M236.03,78.77l1.75,3.32h-3.50z M236.22,79.33l1.75,3.32h-3.50z M236.41,79.90l1.75,3.32h-3.50z M236.61,80.47l1.75,3.32h-3.50z M236.80,81.04l1.75,3.32h-3.50z M237.00,81.60l1.75,3.32h-3.50z M237.19,82.17l1.75,3.32h-3.50z M237.39,82.74l1.75,3.32h-3.50z M237.58,83.31l1.75,3.32h-3.50z M237.77,83.87l1.75,3.32h-3.50z M237.97,84.44l1.75,3.32h-3.50z M238.16,85.01l1.75,3.32h-3.50z M238.36,85.58l1.75,3.32h-3.50z M238.55,86.15l1.75,3.32h-3.50z M238.75,86.71l1.75,3.32h-3.50z M238.94,87.28l1.75,3.32h-3.50z M239.14,87.85l1.75,3.32h-3.50z M239.33,88.42l1.75,3.32h-3.50z M239.52,88.98l1.75,3.32h-3.50z M239.72,89.55l1.75,3.32h-3.50z M239.91,90.12l1.75,3.32h-3.50z M240.11,90.69l1.75,3.32h-3.50z M240.30,91.25l1.75,3.32h-3.50z M240.50,91.82l1.75,3.32h-3.50z M240.70,92.39l1.75,3.32h-3.50z M240.90,92.95l1.75,3.32h-3.50z M241.10,93.52l1.75,3.32h-3.50z M241.30,94.08l1.75,3.32h-3.50z M241.50,94.65l1.75,3.32h-3.50z M241.71,95.21l1.75,3.32h-3.50z M241.91,95.78l1.75,3.32h-3.50z M242.11,96.34l1.75,3.32h-3.50z M242.31,96.91l1.75,3.32h-3.50z M242.51,97.47l1.75,3.32h-3.50z M242.71,98.04l1.75,3.32h-3.50z M242.91,98.61l1.75,3.32h-3.50z M243.11,99.17l1.75,3.32h-3.50z M243.31,99.74l1.75,3.32h-3.50z M243.51,100.30l1.75,3.32h-3.50z M243.71,100.87l1.75,3.32h-3.50z M243.91,101.43l1.75,3.32h-3.50z M244.11,102.00l1.75,3.32h-3.50z M244.31,102.56l1.75,3.32h-3.50z M244.51,103.13l1.75,3.32h-3.50z M244.71,103.69l1.75,3.32h-3.50z M244.92,104.26l1.75,3.32h-3.50z M245.12,104.83l1.75,3.32h-3.50z M245.32,105.39l1.75,3.32h-3.50z M245.52,105.96l1.75,3.32h-3.50z M245.72,106.52l1.75,3.32h-3.50z M245.92,107.09l1.75,3.32h-3.50z M246.12,107.65l1.75,3.32h-3.50z M246.32,108.22l1.75,3.32h-3.50z M246.52,108.78l1.75,3.32h-3.50z M246.72,109.35l1.75,3.32h-3.50z M246.92,109.91l1.75,3.32h-3.50z M247.12,110.48l1.75,3.32h-3.50z M247.32,111.05l1.75,3.32h-3.50z M247.52,111.61l1.75,3.32h-3.50z M247.72,112.18l1.75,3.32h-3.50z M247.92,112.74l1.75,3.32h-3.50z M248.13,113.31l1.75,3.32h-3.50z M248.33,113.87l1.75,3.32h-3.50z M248.53,114.44l1.75,3.32h-3.50z M248.73,115.00l1.75,3.32h-3.50z M248.93,115.57l1.75,3.32h-3.50z M249.13,116.13l1.75,3.32h-3.50z M249.33,116.70l1.75,3.32h-3.50z M249.53,117.27l1.75,3.32h-3.50z M249.73,117.83l1.75,3.32h-3.50z M249.93,118.40l1.75,3.32h-3.50z M250.13,118.96l1.75,3.32h-3.50z M250.33,119.53l1.75,3.32h-3.50z M250.53,120.09l1.75,3.32h-3.50z M250.73,120.66l1.75,3.32h-3.50z M250.93,121.22l1.75,3.32h-3.50z M251.13,121.79l1.75,3.32h-3.50z M251.34,122.35l1.75,3.32h-3.50z M251.54,122.92l1.75,3.32h-3.50z M251.74,123.49l1.75,3.32h-3.50z M251.94,124.05l1.75,3.32h-3.50z M252.14,124.62l1.75,3.32h-3.50z M252.34,125.18l1.75,3.32h-3.50z M252.54,125.75l1.75,3.32h-3.50z M252.74,126.31l1.75,3.32h-3.50z M252.94,126.88l1.75,3.32h-3.50z M253.14,127.44l1.75,3.32h-3.50z M253.34,128.01l1.75,3.32h-3.50z M253.54,128.58l1.75,3.32h-3.50z M253.74,129.14l1.75,3.32h-3.50z M253.94,129.71l1.75,3.32h-3.50z M254.14,130.27l1.75,3.32h-3.50z M254.34,130.84l1.75,3.32h-3.50z M254.55,131.40l1.75,3.32h-3.50z M254.75,131.97l1.75,3.32h-3.50z" stroke="#14e614" stroke-width="0.95" fill="none"/>
<path d="M229.57,58.81h2.64v2.64h-2.64z M229.70,59.50h2.64v2.64h-2.64z M229.83,60.19h2.64v2.64h-2.64z M229.96,60.87h2.64v2.64h-2.64z M230.10,61.56h2.64v2.64h-2.64z M230.23,62.25h2.64v2.64h-2.64z M230.38,62.93h2.64v2.64h-2.64z M230.52,63.62h2.64v2.64h-2.64z M230.66,64.30h2.64v2.64h-2.64z M230.81,64.99h2.64v2.64h-2.64z M230.97,65.67h2.64v2.64h-2.64z M231.13,66.35h2.64v2.64h-2.64z M231.30,67.03h2.64v2.64h-2.64z M231.49,67.70h2.64v2.64h-2.64z M231.68,68.38h2.64v2.64h-2.64z M231.89,69.04h2.64v2.64h-2.64z M232.11,69.71h2.64v2.64h-2.64z M232.35,70.37h2.64v2.64h-2.64z M232.59,71.02h2.64v2.64h-2.64z M232.85,71.67h2.64v2.64h-2.64z M233.12,72.32h2.64v2.64h-2.64z M233.40,72.96h2.64v2.64h-2.64z M233.70,73.59h2.64v2.64h-2.64z M234.00,74.22h2.64v2.64h-2.64z M234.32,74.85h2.64v2.64h-2.64z M234.65,75.47h2.64v2.64h-2.64z M234.99,76.08h2.64v2.64h-2.64z M235.35,76.68h2.64v2.64h-2.64z M235.71,77.28h2.64v2.64h-2.64z M236.09,77.87h2.64v2.64h-2.64z M236.47,78.45h2.64v2.64h-2.64z M236.86,79.04h2.64v2.64h-2.64z M237.24,79.62h2.64v2.64h-2.64z M237.61,80.22h2.64v2.64h-2.64z M237.93,80.84h2.64v2.64h-2.64z M238.26,81.46h2.64v2.64h-2.64z M238.59,82.07h2.64v2.64h-2.64z M238.92,82.69h2.64v2.64h-2.64z M239.24,83.31h2.64v2.64h-2.64z M239.57,83.93h2.64v2.64h-2.64z M239.90,84.55h2.64v2.64h-2.64z M240.23,85.17h2.64v2.64h-2.64z M240.56,85.79h2.64v2.64h-2.64z M240.88,86.40h2.64v2.64h-2.64z M241.21,87.02h2.64v2.64h-2.64z M241.54,87.64h2.64v2.64h-2.64z M241.87,88.26h2.64v2.64h-2.64z M242.19,88.88h2.64v2.64h-2.64z M242.52,89.50h2.64v2.64h-2.64z M242.85,90.11h2.64v2.64h-2.64z M243.18,90.73h2.64v2.64h-2.64z M243.51,91.35h2.64v2.64h-2.64z M243.83,91.97h2.64v2.64h-2.64z M244.16,92.59h2.64v2.64h-2.64z M244.48,93.21h2.64v2.64h-2.64z M244.81,93.83h2.64v2.64h-2.64z M245.13,94.45h2.64v2.64h-2.64z M245.45,95.07h2.64v2.64h-2.64z M245.78,95.69h2.64v2.64h-2.64z M246.10,96.31h2.64v2.64h-2.64z M246.43,96.93h2.64v2.64h-2.64z M246.75,97.55h2.64v2.64h-2.64z M247.07,98.18h2.64v2.64h-2.64z M247.40,98.80h2.64v2.64h-2.64z M247.72,99.42h2.64v2.64h-2.64z M248.05,100.04h2.64v2.64h-2.64z M248.37,100.66h2.64v2.64h-2.64z M248.69,101.28h2.64v2.64h-2.64z M249.02,101.90h2.64v2.64h-2.64z M249.34,102.52h2.64v2.64h-2.64z M249.67,103.14h2.64v2.64h-2.64z M249.99,103.76h2.64v2.64h-2.64z M250.31,104.38h2.64v2.64h-2.64z M250.64,105.00h2.64v2.64h-2.64z M250.96,105.62h2.64v2.64h-2.64z M251.29,106.24h2.64v2.64h-2.64z M251.61,106.86h2.64v2.64h-2.64z M251.94,107.48h2.64v2.64h-2.64z M252.26,108.10h2.64v2.64h-2.64z M252.58,108.72h2.64v2.64h-2.64z M252.91,109.34h2.64v2.64h-2.64z M253.23,109.96h2.64v2.64h-2.64z M253.56,110.58h2.64v2.64h-2.64z M253.88,111.20h2.64v2.64h-2.64z M254.20,111.83h2.64v2.64h-2.64z M254.53,112.45h2.64v2.64h-2.64z M254.85,113.07h2.64v2.64h-2.64z M255.18,113.69h2.64v2.64h-2.64z M255.50,114.31h2.64v2.64h-2.64z M255.82,114.93h2.64v2.64h-2.64z M256.15,115.55h2.64v2.64h-2.64z M256.47,116.17h2.64v2.64h-2.64z M256.80,116.79h2.64v2.64h-2.64z M257.12,117.41h2.64v2.64h-2.64z M257.45,118.03h2.64v2.64h-2.64z M257.77,118.65h2.64v2.64h-2.64z M258.09,119.27h2.64v2.64h-2.64z M258.42,119.89h2.64v2.64h-2.64z M258.74,120.51h2.64v2.64h-2.64z M259.07,121.13h2.64v2.64h-2.64z M259.39,121.75h2.64v2.64h-2.64z M259.71,122.37h2.64v2.64h-2.64z M260.04,122.99h2.64v2.64h-2.64z M260.36,123.61h2.64v2.64h-2.64z M260.69,124.23h2.64v2.64h-2.64z M261.01,124.85h2.64v2.64h-2.64z M261.33,125.48h2.64v2.64h-2.64z M261.66,126.10h2.64v2.64h-2.64z M261.98,126.72h2.64v2.64h-2.64z M262.31,127.34h2.64v2.64h-2.64z M262.63,127.96h2.64v2.64h-2.64z M262.95,128.58h2.64v2.64h-2.64z M263.28,129.20h2.64v2.64h-2.64z M263.60,129.82h2.64v2.64h-2.64z M263.93,130.44h2.64v2.64h-2.64z M264.25,131.06h2.64v2.64h-2.64z M264.58,131.68h2.64v2.64h-2.64z M264.90,132.30h2.64v2.64h-2.64z M265.22,132.92h2.64v2.64h-2.64z" stroke="#ff2a00" stroke-width="0.95" fill="none"/>
<path d="M226.16,26.40h3.00M227.66,24.90v3.00" stroke="#1438ff" stroke-width="0.9" fill="none"/>
<path d="M227.81,27.62l1.25,2.38h-2.50z" stroke="#14e614" stroke-width="0.9" fill="none"/>
<path d="M226.95,30.60h2.00v2.00h-2.00z" stroke="#ff2a00" stroke-width="0.9" fill="none"/>
<path d="M228.10,32.83l1.25,2.38h-2.50z" stroke="#14e614" stroke-width="0.9" fill="none"/>
<path d="M226.75,36.80h3.00M228.25,35.30v3.00" stroke="#1438ff" stroke-width="0.9" fill="none"/>
<path d="M227.42,38.40h2.00v2.00h-2.00z" stroke="#ff2a00" stroke-width="0.9" fill="none"/>
<path d="M228.58,40.63l1.25,2.38h-2.50z" stroke="#14e614" stroke-width="0.9" fill="none"/>
<path d="M227.75,43.60h2.00v2.00h-2.00z" stroke="#ff2a00" stroke-width="0.9" fill="none"/>
<path d="M227.49,47.20h3.00M228.99,45.70v3.00" stroke="#1438ff" stroke-width="0.9" fill="none"/>
<path d="M227.77,49.80h3.00M229.27,48.30v3.00" stroke="#1438ff" stroke-width="0.9" fill="none"/>
<path d="M229.54,51.03l1.25,2.38h-2.50z" stroke="#14e614" stroke-width="0.9" fill="none"/>
<path d="M228.82,54.00h2.00v2.00h-2.00z" stroke="#ff2a00" stroke-width="0.9" fill="none"/>
<path d="M230.21,56.23l1.25,2.38h-2.50z" stroke="#14e614" stroke-width="0.9" fill="none"/>
<circle cx="227.80" cy="25.40" r="1.75" fill="none" stroke="#000" stroke-width="1.15"/>
<circle cx="230.50" cy="59.64" r="1.75" fill="none" stroke="#000" stroke-width="1.15"/>
<circle cx="232.50" cy="69.02" r="1.75" fill="none" stroke="#000" stroke-width="1.15"/>
<circle cx="235.10" cy="75.70" r="1.75" fill="none" stroke="#000" stroke-width="1.15"/>
<circle cx="237.40" cy="79.64" r="1.75" fill="none" stroke="#000" stroke-width="1.15"/>
<circle cx="239.70" cy="83.11" r="1.75" fill="none" stroke="#000" stroke-width="1.15"/>
<circle cx="242.00" cy="86.36" r="1.75" fill="none" stroke="#000" stroke-width="1.15"/>
<circle cx="243.80" cy="88.47" r="1.75" fill="none" stroke="#000" stroke-width="1.15"/>
<circle cx="245.60" cy="90.24" r="1.75" fill="none" stroke="#000" stroke-width="1.15"/>
<circle cx="247.40" cy="91.84" r="1.75" fill="none" stroke="#000" stroke-width="1.15"/>
<circle cx="249.20" cy="93.37" r="1.75" fill="none" stroke="#000" stroke-width="1.15"/>
<circle cx="251.00" cy="94.83" r="1.75" fill="none" stroke="#000" stroke-width="1.15"/>
<circle cx="252.80" cy="96.20" r="1.75" fill="none" stroke="#000" stroke-width="1.15"/>
<circle cx="254.60" cy="97.44" r="1.75" fill="none" stroke="#000" stroke-width="1.15"/>
<circle cx="256.40" cy="98.56" r="1.75" fill="none" stroke="#000" stroke-width="1.15"/>
<circle cx="258.20" cy="99.60" r="1.75" fill="none" stroke="#000" stroke-width="1.15"/>
<circle cx="260.00" cy="100.58" r="1.75" fill="none" stroke="#000" stroke-width="1.15"/>
<circle cx="261.80" cy="101.51" r="1.75" fill="none" stroke="#000" stroke-width="1.15"/>
<circle cx="263.60" cy="102.42" r="1.75" fill="none" stroke="#000" stroke-width="1.15"/>
<circle cx="265.40" cy="103.30" r="1.75" fill="none" stroke="#000" stroke-width="1.15"/>
<circle cx="267.20" cy="104.19" r="1.75" fill="none" stroke="#000" stroke-width="1.15"/>
<circle cx="269.00" cy="105.06" r="1.75" fill="none" stroke="#000" stroke-width="1.15"/>
<circle cx="270.80" cy="105.90" r="1.75" fill="none" stroke="#000" stroke-width="1.15"/>
<circle cx="272.60" cy="106.72" r="1.75" fill="none" stroke="#000" stroke-width="1.15"/>
<circle cx="274.40" cy="107.53" r="1.75" fill="none" stroke="#000" stroke-width="1.15"/>
<circle cx="276.20" cy="108.31" r="1.75" fill="none" stroke="#000" stroke-width="1.15"/>
<circle cx="278.00" cy="109.08" r="1.75" fill="none" stroke="#000" stroke-width="1.15"/>
<circle cx="279.80" cy="109.83" r="1.75" fill="none" stroke="#000" stroke-width="1.15"/>
<circle cx="281.60" cy="110.56" r="1.75" fill="none" stroke="#000" stroke-width="1.15"/>
<circle cx="283.40" cy="111.27" r="1.75" fill="none" stroke="#000" stroke-width="1.15"/>
<circle cx="285.20" cy="111.97" r="1.75" fill="none" stroke="#000" stroke-width="1.15"/>
<circle cx="287.00" cy="112.67" r="1.75" fill="none" stroke="#000" stroke-width="1.15"/>
<circle cx="288.80" cy="113.37" r="1.75" fill="none" stroke="#000" stroke-width="1.15"/>
<circle cx="290.60" cy="114.07" r="1.75" fill="none" stroke="#000" stroke-width="1.15"/>
<circle cx="292.40" cy="114.77" r="1.75" fill="none" stroke="#000" stroke-width="1.15"/>
<circle cx="294.20" cy="115.45" r="1.75" fill="none" stroke="#000" stroke-width="1.15"/>
<circle cx="296.00" cy="116.12" r="1.75" fill="none" stroke="#000" stroke-width="1.15"/>
<circle cx="297.80" cy="116.79" r="1.75" fill="none" stroke="#000" stroke-width="1.15"/>
<circle cx="299.60" cy="117.45" r="1.75" fill="none" stroke="#000" stroke-width="1.15"/>
<circle cx="301.40" cy="118.10" r="1.75" fill="none" stroke="#000" stroke-width="1.15"/>
<circle cx="303.20" cy="118.75" r="1.75" fill="none" stroke="#000" stroke-width="1.15"/>
<circle cx="305.00" cy="119.40" r="1.75" fill="none" stroke="#000" stroke-width="1.15"/>
<circle cx="306.80" cy="120.04" r="1.75" fill="none" stroke="#000" stroke-width="1.15"/>
<circle cx="308.60" cy="120.67" r="1.75" fill="none" stroke="#000" stroke-width="1.15"/>
<circle cx="310.40" cy="121.30" r="1.75" fill="none" stroke="#000" stroke-width="1.15"/>
<circle cx="312.20" cy="121.91" r="1.75" fill="none" stroke="#000" stroke-width="1.15"/>
<circle cx="314.00" cy="122.53" r="1.75" fill="none" stroke="#000" stroke-width="1.15"/>
<circle cx="315.80" cy="123.13" r="1.75" fill="none" stroke="#000" stroke-width="1.15"/>
<circle cx="317.60" cy="123.73" r="1.75" fill="none" stroke="#000" stroke-width="1.15"/>
<circle cx="319.40" cy="124.31" r="1.75" fill="none" stroke="#000" stroke-width="1.15"/>
<circle cx="321.20" cy="124.88" r="1.75" fill="none" stroke="#000" stroke-width="1.15"/>
<circle cx="323.00" cy="125.44" r="1.75" fill="none" stroke="#000" stroke-width="1.15"/>
<circle cx="324.80" cy="125.99" r="1.75" fill="none" stroke="#000" stroke-width="1.15"/>
<circle cx="326.60" cy="126.54" r="1.75" fill="none" stroke="#000" stroke-width="1.15"/>
<circle cx="328.40" cy="127.08" r="1.75" fill="none" stroke="#000" stroke-width="1.15"/>
<circle cx="330.20" cy="127.63" r="1.75" fill="none" stroke="#000" stroke-width="1.15"/>
<circle cx="332.00" cy="128.18" r="1.75" fill="none" stroke="#000" stroke-width="1.15"/>
<circle cx="333.80" cy="128.74" r="1.75" fill="none" stroke="#000" stroke-width="1.15"/>
<circle cx="335.60" cy="129.30" r="1.75" fill="none" stroke="#000" stroke-width="1.15"/>
<circle cx="337.40" cy="129.88" r="1.75" fill="none" stroke="#000" stroke-width="1.15"/>
<circle cx="339.20" cy="130.47" r="1.75" fill="none" stroke="#000" stroke-width="1.15"/>
<circle cx="341.00" cy="131.07" r="1.75" fill="none" stroke="#000" stroke-width="1.15"/>
<circle cx="342.80" cy="131.70" r="1.75" fill="none" stroke="#000" stroke-width="1.15"/>
<circle cx="344.60" cy="132.34" r="1.75" fill="none" stroke="#000" stroke-width="1.15"/>
<circle cx="346.40" cy="132.98" r="1.75" fill="none" stroke="#000" stroke-width="1.15"/>
</g>
<path d="M227.6,25.4 H353.6 V133.2 H227.6 Z" fill="none" stroke="#000" stroke-width="1.0"/>
<path d="M227.6,50.51 h2.2 M227.6,44.19 h2.2 M227.6,39.70 h2.2 M227.6,36.22 h2.2 M227.6,33.37 h2.2 M227.6,30.97 h2.2 M227.6,28.88 h2.2 M227.6,27.04 h2.2 M227.6,61.33 h4.2 M227.6,86.44 h2.2 M227.6,80.12 h2.2 M227.6,75.63 h2.2 M227.6,72.15 h2.2 M227.6,69.30 h2.2 M227.6,66.90 h2.2 M227.6,64.81 h2.2 M227.6,62.97 h2.2 M227.6,97.26 h4.2 M227.6,122.37 h2.2 M227.6,116.05 h2.2 M227.6,111.56 h2.2 M227.6,108.08 h2.2 M227.6,105.23 h2.2 M227.6,102.83 h2.2 M227.6,100.74 h2.2 M227.6,98.90 h2.2 M269.60,133.2 v-3.4 M311.60,133.2 v-3.4" stroke="#000" stroke-width="0.7" fill="none"/>
<text x="224.8" y="30.4" font-size="12.5" text-anchor="end">1</text>
<text x="224.8" y="66.3" font-size="12.5" text-anchor="end">0.1</text>
<text x="224.8" y="102.3" font-size="12.5" text-anchor="end">0.01</text>
<text x="224.8" y="139.0" font-size="12.5" text-anchor="end">0.001</text>
<text x="228.4" y="147.0" font-size="13" text-anchor="middle">0</text>
<text x="270.4" y="147.0" font-size="13" text-anchor="middle">50</text>
<text x="312.4" y="147.0" font-size="13" text-anchor="middle">100</text>
<text x="354.4" y="147.0" font-size="13" text-anchor="middle">150</text>
<text x="243.3" y="41.4" font-size="12.5">T=0.48,</text>
<text x="293" y="41.4" font-size="15">U<tspan font-size="10" dy="2">soft</tspan><tspan dy="-2" font-size="14"> =</tspan></text>
<circle cx="297.7" cy="52.7" r="2.65" fill="none" stroke="#000" stroke-width="1.8"/>
<text x="306.3" y="58.0" font-size="16.5">∞</text>
<rect x="294.9" y="59.7" width="5.8" height="5.8" fill="none" stroke="#ff2a00" stroke-width="1.55"/>
<text x="306.6" y="68.9" font-size="13.8">3.5</text>
<path d="M297.7,70.6 L301.2,76.9 H294.2 Z" fill="none" stroke="#14e614" stroke-width="1.5"/>
<text x="306.6" y="80.5" font-size="13.8">3.0</text>
<path d="M293.6,87.2 h8.2 M297.7,83.1 v8.2" fill="none" stroke="#1438ff" stroke-width="1.5"/>
<text x="306.6" y="92.1" font-size="13.8">2.0</text>
<g clip-path="url(#cl)" fill="none" stroke-linejoin="round">
<path d="M92.00,469.30 L92.34,469.29 L92.69,469.28 L93.03,469.26 L93.38,469.24 L93.72,469.21 L94.07,469.18 L94.41,469.15 L94.76,469.11 L95.10,469.07 L95.44,469.03 L95.79,468.99 L96.13,468.94 L96.48,468.89 L96.82,468.84 L97.17,468.79 L97.51,468.73 L97.86,468.68 L98.20,468.62 L98.55,468.56 L98.89,468.50 L99.23,468.44 L99.58,468.38 L99.92,468.31 L100.27,468.25 L100.61,468.18 L100.96,468.10 L101.30,468.01 L101.65,467.91 L101.99,467.81 L102.33,467.71 L102.68,467.60 L103.02,467.49 L103.37,467.37 L103.71,467.26 L104.06,467.14 L104.40,467.02 L104.75,466.90 L105.09,466.78 L105.43,466.66 L105.78,466.54 L106.12,466.43 L106.47,466.32 L106.81,466.21 L107.16,466.11 L107.50,466.00 L107.85,465.89 L108.19,465.77 L108.54,465.65 L108.88,465.52 L109.22,465.38 L109.57,465.22 L109.91,465.05 L110.26,464.85 L110.60,464.63 L110.95,464.37 L111.29,464.09 L111.64,463.78 L111.98,463.45 L112.32,463.09 L112.67,462.70 L113.01,462.30 L113.36,461.87 L113.70,461.42 L114.05,460.95 L114.39,460.46 L114.74,459.95 L115.08,459.43 L115.42,458.89 L115.77,458.33 L116.11,457.77 L116.46,457.19 L116.80,456.59 L117.15,455.99 L117.49,455.36 L117.84,454.67 L118.18,453.93 L118.53,453.13 L118.87,452.28 L119.21,451.39 L119.56,450.46 L119.90,449.49 L120.25,448.48 L120.59,447.45 L120.94,446.38 L121.28,445.30 L121.63,444.19 L121.97,443.07 L122.31,441.94 L122.66,440.80 L123.00,439.65 L123.35,438.50 L123.69,437.32 L124.04,436.09 L124.38,434.82 L124.73,433.51 L125.07,432.17 L125.41,430.80 L125.76,429.40 L126.10,427.98 L126.45,426.53 L126.79,425.06 L127.14,423.58 L127.48,422.08 L127.83,420.57 L128.17,419.04 L128.52,417.48 L128.86,415.87 L129.20,414.24 L129.55,412.57 L129.89,410.87 L130.24,409.15 L130.58,407.42 L130.93,405.68 L131.27,403.93 L131.62,402.17 L131.96,400.42 L132.30,398.68 L132.65,396.95 L132.99,395.23 L133.34,393.48 L133.68,391.68 L134.03,389.85 L134.37,387.99 L134.72,386.13 L135.06,384.28 L135.40,382.44 L135.75,380.64 L136.09,378.88 L136.44,377.19 L136.78,375.56 L137.13,374.03 L137.47,372.59 L137.82,371.26 L138.16,369.93 L138.51,368.61 L138.85,367.32 L139.19,366.08 L139.54,364.94 L139.88,363.92 L140.23,363.04 L140.57,362.35 L140.92,361.85 L141.26,361.41 L141.61,361.00 L141.95,360.64 L142.29,360.36 L142.64,360.17 L142.98,360.10 L143.33,360.18 L143.67,360.43 L144.02,360.82 L144.36,361.31 L144.71,361.89 L145.05,362.53 L145.39,363.19 L145.74,364.00 L146.08,365.08 L146.43,366.37 L146.77,367.85 L147.12,369.47 L147.46,371.18 L147.81,372.95 L148.15,374.73 L148.49,376.47 L148.84,378.25 L149.18,380.15 L149.53,382.13 L149.87,384.20 L150.22,386.32 L150.56,388.48 L150.91,390.66 L151.25,392.84 L151.60,395.00 L151.94,397.13 L152.28,399.21 L152.63,401.31 L152.97,403.42 L153.32,405.53 L153.66,407.65 L154.01,409.76 L154.35,411.86 L154.70,413.94 L155.04,415.98 L155.38,418.00 L155.73,419.96 L156.07,421.94 L156.42,423.95 L156.76,425.96 L157.11,427.97 L157.45,429.94 L157.80,431.85 L158.14,433.68 L158.48,435.42 L158.83,437.03 L159.17,438.50 L159.52,439.84 L159.86,441.12 L160.21,442.37 L160.55,443.58 L160.90,444.74 L161.24,445.86 L161.59,446.94 L161.93,447.97 L162.27,448.95 L162.62,449.88 L162.96,450.77 L163.31,451.60 L163.65,452.38 L164.00,453.10 L164.34,453.77 L164.69,454.41 L165.03,455.03 L165.37,455.63 L165.72,456.21 L166.06,456.77 L166.41,457.30 L166.75,457.82 L167.10,458.31 L167.44,458.79 L167.79,459.24 L168.13,459.68 L168.47,460.10 L168.82,460.49 L169.16,460.87 L169.51,461.23 L169.85,461.57 L170.20,461.90 L170.54,462.21 L170.89,462.51 L171.23,462.81 L171.58,463.10 L171.92,463.39 L172.26,463.67 L172.61,463.94 L172.95,464.20 L173.30,464.45 L173.64,464.69 L173.99,464.93 L174.33,465.15 L174.68,465.37 L175.02,465.58 L175.36,465.77 L175.71,465.96 L176.05,466.13 L176.40,466.29 L176.74,466.44 L177.09,466.58 L177.43,466.71 L177.78,466.83 L178.12,466.95 L178.46,467.06 L178.81,467.17 L179.15,467.28 L179.50,467.39 L179.84,467.49 L180.19,467.58 L180.53,467.68 L180.88,467.77 L181.22,467.86 L181.57,467.94 L181.91,468.02 L182.25,468.10 L182.60,468.18 L182.94,468.25 L183.29,468.31 L183.63,468.38 L183.98,468.44 L184.32,468.50 L184.67,468.55 L185.01,468.60 L185.35,468.65 L185.70,468.69 L186.04,468.73 L186.39,468.77 L186.73,468.81 L187.08,468.85 L187.42,468.89 L187.77,468.92 L188.11,468.96 L188.45,469.00 L188.80,469.03 L189.14,469.07 L189.49,469.10 L189.83,469.13 L190.18,469.16 L190.52,469.19 L190.87,469.22 L191.21,469.25 L191.56,469.27 L191.90,469.30 L192.24,469.32 L192.59,469.34 L192.93,469.35 L193.28,469.37 L193.62,469.38 L193.97,469.39 L194.31,469.39 L194.66,469.40 L195.00,469.40" stroke="#ff3014" stroke-width="1.2"/>
<path d="M100.00,469.40 L100.30,469.40 L100.61,469.40 L100.91,469.39 L101.21,469.39 L101.52,469.38 L101.82,469.37 L102.13,469.36 L102.43,469.35 L102.73,469.33 L103.04,469.32 L103.34,469.30 L103.64,469.29 L103.95,469.27 L104.25,469.25 L104.56,469.23 L104.86,469.21 L105.16,469.18 L105.47,469.16 L105.77,469.13 L106.07,469.11 L106.38,469.08 L106.68,469.05 L106.98,469.02 L107.29,468.99 L107.59,468.96 L107.90,468.93 L108.20,468.90 L108.50,468.87 L108.81,468.84 L109.11,468.80 L109.41,468.77 L109.72,468.73 L110.02,468.70 L110.33,468.66 L110.63,468.62 L110.93,468.57 L111.24,468.52 L111.54,468.46 L111.84,468.40 L112.15,468.33 L112.45,468.26 L112.75,468.18 L113.06,468.10 L113.36,468.02 L113.67,467.93 L113.97,467.84 L114.27,467.74 L114.58,467.64 L114.88,467.54 L115.18,467.43 L115.49,467.32 L115.79,467.21 L116.09,467.09 L116.40,466.97 L116.70,466.84 L117.01,466.71 L117.31,466.58 L117.61,466.45 L117.92,466.31 L118.22,466.17 L118.52,466.03 L118.83,465.88 L119.13,465.73 L119.44,465.58 L119.74,465.43 L120.04,465.26 L120.35,465.07 L120.65,464.87 L120.95,464.66 L121.26,464.43 L121.56,464.19 L121.86,463.94 L122.17,463.67 L122.47,463.40 L122.78,463.11 L123.08,462.81 L123.38,462.50 L123.69,462.19 L123.99,461.86 L124.29,461.53 L124.60,461.19 L124.90,460.85 L125.21,460.50 L125.51,460.14 L125.81,459.78 L126.12,459.41 L126.42,459.05 L126.72,458.68 L127.03,458.30 L127.33,457.93 L127.63,457.55 L127.94,457.18 L128.24,456.80 L128.55,456.41 L128.85,456.00 L129.15,455.59 L129.46,455.16 L129.76,454.73 L130.06,454.28 L130.37,453.82 L130.67,453.36 L130.98,452.88 L131.28,452.39 L131.58,451.90 L131.89,451.40 L132.19,450.89 L132.49,450.37 L132.80,449.84 L133.10,449.31 L133.40,448.76 L133.71,448.22 L134.01,447.66 L134.32,447.10 L134.62,446.51 L134.92,445.89 L135.23,445.26 L135.53,444.61 L135.83,443.94 L136.14,443.26 L136.44,442.57 L136.75,441.87 L137.05,441.17 L137.35,440.45 L137.66,439.74 L137.96,439.03 L138.26,438.32 L138.57,437.61 L138.87,436.91 L139.17,436.22 L139.48,435.54 L139.78,434.88 L140.09,434.23 L140.39,433.59 L140.69,432.95 L141.00,432.31 L141.30,431.68 L141.60,431.04 L141.91,430.41 L142.21,429.78 L142.52,429.15 L142.82,428.53 L143.12,427.91 L143.43,427.30 L143.73,426.69 L144.03,426.09 L144.34,425.49 L144.64,424.91 L144.94,424.33 L145.25,423.75 L145.55,423.19 L145.86,422.64 L146.16,422.09 L146.46,421.56 L146.77,421.03 L147.07,420.51 L147.37,420.00 L147.68,419.49 L147.98,418.99 L148.28,418.49 L148.59,418.00 L148.89,417.52 L149.20,417.04 L149.50,416.56 L149.80,416.08 L150.11,415.62 L150.41,415.15 L150.71,414.69 L151.02,414.23 L151.32,413.77 L151.63,413.31 L151.93,412.86 L152.23,412.40 L152.54,411.96 L152.84,411.52 L153.14,411.08 L153.45,410.65 L153.75,410.23 L154.05,409.81 L154.36,409.39 L154.66,408.97 L154.97,408.56 L155.27,408.14 L155.57,407.73 L155.88,407.32 L156.18,406.90 L156.48,406.48 L156.79,406.06 L157.09,405.64 L157.40,405.21 L157.70,404.78 L158.00,404.34 L158.31,403.89 L158.61,403.42 L158.91,402.93 L159.22,402.42 L159.52,401.90 L159.82,401.38 L160.13,400.86 L160.43,400.34 L160.74,399.83 L161.04,399.33 L161.34,398.86 L161.65,398.41 L161.95,397.98 L162.25,397.59 L162.56,397.24 L162.86,396.94 L163.17,396.66 L163.47,396.37 L163.77,396.09 L164.08,395.81 L164.38,395.54 L164.68,395.28 L164.99,395.03 L165.29,394.81 L165.59,394.60 L165.90,394.42 L166.20,394.26 L166.51,394.14 L166.81,394.06 L167.11,394.01 L167.42,394.00 L167.72,394.04 L168.02,394.12 L168.33,394.24 L168.63,394.40 L168.94,394.58 L169.24,394.80 L169.54,395.04 L169.85,395.31 L170.15,395.59 L170.45,395.89 L170.76,396.21 L171.06,396.53 L171.36,396.86 L171.67,397.23 L171.97,397.69 L172.28,398.24 L172.58,398.85 L172.88,399.54 L173.19,400.28 L173.49,401.06 L173.79,401.89 L174.10,402.75 L174.40,403.63 L174.71,404.52 L175.01,405.43 L175.31,406.37 L175.62,407.38 L175.92,408.45 L176.22,409.59 L176.53,410.77 L176.83,412.01 L177.13,413.28 L177.44,414.59 L177.74,415.92 L178.05,417.28 L178.35,418.66 L178.65,420.04 L178.96,421.49 L179.26,423.02 L179.56,424.61 L179.87,426.25 L180.17,427.93 L180.47,429.63 L180.78,431.34 L181.08,433.04 L181.39,434.72 L181.69,436.36 L181.99,437.95 L182.30,439.48 L182.60,441.00 L182.90,442.52 L183.21,444.03 L183.51,445.53 L183.82,447.01 L184.12,448.47 L184.42,449.90 L184.73,451.30 L185.03,452.66 L185.33,453.98 L185.64,455.24 L185.94,456.47 L186.24,457.70 L186.55,458.93 L186.85,460.16 L187.16,461.35 L187.46,462.49 L187.76,463.57 L188.07,464.56 L188.37,465.45 L188.67,466.22 L188.98,466.85 L189.28,467.42 L189.59,467.95 L189.89,468.42 L190.19,468.83 L190.50,469.16 L190.80,469.40" stroke="#2040ff" stroke-width="1.2"/>
<path d="M98.00,469.40 L98.31,469.39 L98.61,469.38 L98.92,469.36 L99.23,469.35 L99.54,469.33 L99.84,469.31 L100.15,469.29 L100.46,469.26 L100.77,469.24 L101.07,469.21 L101.38,469.19 L101.69,469.16 L102.00,469.13 L102.30,469.10 L102.61,469.07 L102.92,469.04 L103.23,469.00 L103.53,468.97 L103.84,468.93 L104.15,468.90 L104.45,468.86 L104.76,468.83 L105.07,468.79 L105.38,468.75 L105.68,468.71 L105.99,468.67 L106.30,468.63 L106.61,468.58 L106.91,468.54 L107.22,468.48 L107.53,468.43 L107.84,468.38 L108.14,468.32 L108.45,468.26 L108.76,468.19 L109.06,468.12 L109.37,468.05 L109.68,467.98 L109.99,467.90 L110.29,467.82 L110.60,467.73 L110.91,467.63 L111.22,467.53 L111.52,467.42 L111.83,467.30 L112.14,467.18 L112.45,467.05 L112.75,466.91 L113.06,466.76 L113.37,466.62 L113.68,466.46 L113.98,466.30 L114.29,466.13 L114.60,465.96 L114.90,465.78 L115.21,465.60 L115.52,465.41 L115.83,465.22 L116.13,465.02 L116.44,464.82 L116.75,464.61 L117.06,464.40 L117.36,464.18 L117.67,463.95 L117.98,463.69 L118.29,463.42 L118.59,463.14 L118.90,462.83 L119.21,462.52 L119.52,462.19 L119.82,461.84 L120.13,461.49 L120.44,461.12 L120.74,460.75 L121.05,460.37 L121.36,459.98 L121.67,459.58 L121.97,459.17 L122.28,458.77 L122.59,458.35 L122.90,457.94 L123.20,457.52 L123.51,457.10 L123.82,456.69 L124.13,456.27 L124.43,455.86 L124.74,455.44 L125.05,455.02 L125.35,454.59 L125.66,454.16 L125.97,453.72 L126.28,453.27 L126.58,452.82 L126.89,452.36 L127.20,451.89 L127.51,451.41 L127.81,450.93 L128.12,450.44 L128.43,449.94 L128.74,449.43 L129.04,448.91 L129.35,448.38 L129.66,447.84 L129.97,447.28 L130.27,446.72 L130.58,446.15 L130.89,445.55 L131.19,444.93 L131.50,444.29 L131.81,443.63 L132.12,442.95 L132.42,442.26 L132.73,441.55 L133.04,440.83 L133.35,440.10 L133.65,439.36 L133.96,438.62 L134.27,437.88 L134.58,437.14 L134.88,436.40 L135.19,435.66 L135.50,434.92 L135.81,434.17 L136.11,433.39 L136.42,432.59 L136.73,431.79 L137.03,430.97 L137.34,430.16 L137.65,429.34 L137.96,428.53 L138.26,427.73 L138.57,426.95 L138.88,426.18 L139.19,425.44 L139.49,424.72 L139.80,424.03 L140.11,423.38 L140.42,422.76 L140.72,422.16 L141.03,421.58 L141.34,421.01 L141.64,420.46 L141.95,419.92 L142.26,419.40 L142.57,418.88 L142.87,418.36 L143.18,417.85 L143.49,417.35 L143.80,416.84 L144.10,416.33 L144.41,415.82 L144.72,415.31 L145.03,414.79 L145.33,414.28 L145.64,413.78 L145.95,413.30 L146.26,412.81 L146.56,412.33 L146.87,411.84 L147.18,411.34 L147.48,410.83 L147.79,410.31 L148.10,409.76 L148.41,409.18 L148.71,408.57 L149.02,407.93 L149.33,407.27 L149.64,406.58 L149.94,405.86 L150.25,405.13 L150.56,404.38 L150.87,403.62 L151.17,402.85 L151.48,402.07 L151.79,401.29 L152.09,400.51 L152.40,399.70 L152.71,398.82 L153.02,397.90 L153.32,396.97 L153.63,396.03 L153.94,395.12 L154.25,394.26 L154.55,393.46 L154.86,392.75 L155.17,392.15 L155.48,391.63 L155.78,391.09 L156.09,390.56 L156.40,390.06 L156.71,389.61 L157.01,389.21 L157.32,388.88 L157.63,388.65 L157.93,388.52 L158.24,388.51 L158.55,388.58 L158.86,388.72 L159.16,388.91 L159.47,389.16 L159.78,389.46 L160.09,389.78 L160.39,390.14 L160.70,390.52 L161.01,390.91 L161.32,391.40 L161.62,392.03 L161.93,392.81 L162.24,393.69 L162.55,394.66 L162.85,395.70 L163.16,396.79 L163.47,397.89 L163.77,399.00 L164.08,400.09 L164.39,401.17 L164.70,402.33 L165.00,403.57 L165.31,404.87 L165.62,406.21 L165.93,407.56 L166.23,408.91 L166.54,410.24 L166.85,411.52 L167.16,412.74 L167.46,413.88 L167.77,414.91 L168.08,415.84 L168.38,416.73 L168.69,417.58 L169.00,418.39 L169.31,419.17 L169.61,419.92 L169.92,420.65 L170.23,421.36 L170.54,422.07 L170.84,422.77 L171.15,423.48 L171.46,424.19 L171.77,424.92 L172.07,425.66 L172.38,426.43 L172.69,427.23 L173.00,428.05 L173.30,428.88 L173.61,429.71 L173.92,430.55 L174.22,431.40 L174.53,432.26 L174.84,433.12 L175.15,433.98 L175.45,434.85 L175.76,435.72 L176.07,436.58 L176.38,437.45 L176.68,438.31 L176.99,439.17 L177.30,440.02 L177.61,440.87 L177.91,441.72 L178.22,442.58 L178.53,443.43 L178.84,444.29 L179.14,445.15 L179.45,446.01 L179.76,446.86 L180.06,447.72 L180.37,448.57 L180.68,449.41 L180.99,450.25 L181.29,451.09 L181.60,451.91 L181.91,452.73 L182.22,453.54 L182.52,454.36 L182.83,455.19 L183.14,456.03 L183.45,456.87 L183.75,457.71 L184.06,458.55 L184.37,459.37 L184.67,460.17 L184.98,460.96 L185.29,461.71 L185.60,462.43 L185.90,463.11 L186.21,463.75 L186.52,464.33 L186.83,464.89 L187.13,465.43 L187.44,465.95 L187.75,466.45 L188.06,466.93 L188.36,467.39 L188.67,467.83 L188.98,468.24 L189.29,468.62 L189.59,468.97 L189.90,469.30" stroke="#000" stroke-width="2.3"/>
</g>
<g clip-path="url(#cr)" fill="none" stroke-linejoin="round">
<path d="M211.00,469.30 L211.30,469.28 L211.60,469.26 L211.91,469.23 L212.21,469.20 L212.51,469.17 L212.81,469.13 L213.12,469.09 L213.42,469.05 L213.72,469.01 L214.02,468.96 L214.33,468.91 L214.63,468.86 L214.93,468.81 L215.23,468.76 L215.54,468.70 L215.84,468.64 L216.14,468.58 L216.44,468.51 L216.74,468.44 L217.05,468.36 L217.35,468.29 L217.65,468.20 L217.95,468.12 L218.26,468.03 L218.56,467.94 L218.86,467.84 L219.16,467.74 L219.47,467.63 L219.77,467.52 L220.07,467.41 L220.37,467.29 L220.67,467.17 L220.98,467.05 L221.28,466.92 L221.58,466.78 L221.88,466.64 L222.19,466.50 L222.49,466.36 L222.79,466.20 L223.09,466.04 L223.40,465.87 L223.70,465.68 L224.00,465.47 L224.30,465.25 L224.61,465.02 L224.91,464.77 L225.21,464.51 L225.51,464.24 L225.81,463.95 L226.12,463.65 L226.42,463.33 L226.72,463.01 L227.02,462.66 L227.33,462.31 L227.63,461.94 L227.93,461.57 L228.23,461.18 L228.54,460.77 L228.84,460.36 L229.14,459.93 L229.44,459.49 L229.75,459.01 L230.05,458.49 L230.35,457.94 L230.65,457.35 L230.95,456.72 L231.26,456.05 L231.56,455.34 L231.86,454.60 L232.16,453.83 L232.47,453.02 L232.77,452.17 L233.07,451.30 L233.37,450.38 L233.68,449.44 L233.98,448.46 L234.28,447.45 L234.58,446.41 L234.88,445.25 L235.19,443.97 L235.49,442.57 L235.79,441.06 L236.09,439.47 L236.40,437.81 L236.70,436.08 L237.00,434.31 L237.30,432.50 L237.61,430.68 L237.91,428.85 L238.21,427.03 L238.51,425.23 L238.82,423.39 L239.12,421.51 L239.42,419.58 L239.72,417.62 L240.02,415.63 L240.33,413.60 L240.63,411.54 L240.93,409.46 L241.23,407.35 L241.54,405.23 L241.84,403.09 L242.14,400.93 L242.44,398.77 L242.75,396.54 L243.05,394.26 L243.35,391.94 L243.65,389.58 L243.96,387.21 L244.26,384.84 L244.56,382.47 L244.86,380.12 L245.16,377.80 L245.47,375.52 L245.77,373.29 L246.07,371.02 L246.37,368.68 L246.68,366.33 L246.98,364.03 L247.28,361.81 L247.58,359.72 L247.89,357.82 L248.19,356.15 L248.49,354.68 L248.79,353.18 L249.09,351.70 L249.40,350.32 L249.70,349.11 L250.00,348.15 L250.30,347.52 L250.61,347.30 L250.91,347.44 L251.21,347.83 L251.51,348.43 L251.82,349.19 L252.12,350.07 L252.42,351.05 L252.72,352.06 L253.03,353.09 L253.33,354.32 L253.63,355.86 L253.93,357.62 L254.23,359.52 L254.54,361.47 L254.84,363.37 L255.14,365.15 L255.44,366.77 L255.75,368.51 L256.05,370.36 L256.35,372.21 L256.65,373.97 L256.96,375.56 L257.26,376.86 L257.56,377.80 L257.86,378.28 L258.17,378.42 L258.47,378.54 L258.77,378.64 L259.07,378.72 L259.37,378.77 L259.68,378.80 L259.98,378.75 L260.28,378.45 L260.58,377.98 L260.89,377.45 L261.19,376.94 L261.49,376.55 L261.79,376.40 L262.10,376.67 L262.40,377.46 L262.70,378.65 L263.00,380.15 L263.31,381.87 L263.61,383.71 L263.91,385.56 L264.21,387.71 L264.51,390.37 L264.82,393.45 L265.12,396.83 L265.42,400.38 L265.72,404.02 L266.03,407.61 L266.33,411.05 L266.63,414.29 L266.93,417.60 L267.24,421.00 L267.54,424.42 L267.84,427.78 L268.14,431.02 L268.44,434.07 L268.75,436.84 L269.05,439.28 L269.35,441.57 L269.65,443.81 L269.96,445.96 L270.26,447.98 L270.56,449.84 L270.86,451.51 L271.17,452.94 L271.47,454.09 L271.77,454.98 L272.07,455.81 L272.38,456.58 L272.68,457.29 L272.98,457.91 L273.28,458.45 L273.58,458.89 L273.89,459.20 L274.19,459.40 L274.49,459.50 L274.79,459.58 L275.10,459.64 L275.40,459.69 L275.70,459.73 L276.00,459.78 L276.31,459.83 L276.61,459.89 L276.91,459.97 L277.21,460.09 L277.52,460.25 L277.82,460.46 L278.12,460.71 L278.42,460.99 L278.72,461.29 L279.03,461.60 L279.33,461.92 L279.63,462.25 L279.93,462.56 L280.24,462.87 L280.54,463.15 L280.84,463.41 L281.14,463.69 L281.45,463.98 L281.75,464.28 L282.05,464.58 L282.35,464.88 L282.65,465.17 L282.96,465.47 L283.26,465.75 L283.56,466.02 L283.86,466.27 L284.17,466.51 L284.47,466.72 L284.77,466.91 L285.07,467.07 L285.38,467.19 L285.68,467.30 L285.98,467.40 L286.28,467.49 L286.59,467.59 L286.89,467.68 L287.19,467.76 L287.49,467.84 L287.79,467.92 L288.10,468.00 L288.40,468.07 L288.70,468.14 L289.00,468.21 L289.31,468.27 L289.61,468.33 L289.91,468.39 L290.21,468.44 L290.52,468.50 L290.82,468.55 L291.12,468.59 L291.42,468.64 L291.73,468.68 L292.03,468.72 L292.33,468.76 L292.63,468.80 L292.93,468.83 L293.24,468.86 L293.54,468.89 L293.84,468.92 L294.14,468.95 L294.45,468.98 L294.75,469.01 L295.05,469.04 L295.35,469.07 L295.66,469.09 L295.96,469.12 L296.26,469.15 L296.56,469.17 L296.86,469.20 L297.17,469.22 L297.47,469.24 L297.77,469.26 L298.07,469.28 L298.38,469.30 L298.68,469.32 L298.98,469.34 L299.28,469.35 L299.59,469.36 L299.89,469.37 L300.19,469.38 L300.49,469.39 L300.80,469.40 L301.10,469.40 L301.40,469.40" stroke="#ff3014" stroke-width="1.2"/>
<path d="M228.00,469.40 L228.31,469.40 L228.61,469.39 L228.92,469.38 L229.23,469.37 L229.53,469.35 L229.84,469.33 L230.14,469.31 L230.45,469.28 L230.76,469.26 L231.06,469.23 L231.37,469.20 L231.68,469.17 L231.98,469.14 L232.29,469.10 L232.60,469.07 L232.90,469.03 L233.21,469.00 L233.51,468.96 L233.82,468.92 L234.13,468.88 L234.43,468.83 L234.74,468.78 L235.05,468.72 L235.35,468.66 L235.66,468.60 L235.97,468.54 L236.27,468.47 L236.58,468.39 L236.88,468.32 L237.19,468.24 L237.50,468.16 L237.80,468.07 L238.11,467.98 L238.42,467.89 L238.72,467.80 L239.03,467.70 L239.34,467.60 L239.64,467.49 L239.95,467.39 L240.25,467.28 L240.56,467.17 L240.87,467.05 L241.17,466.93 L241.48,466.80 L241.79,466.65 L242.09,466.49 L242.40,466.32 L242.71,466.14 L243.01,465.95 L243.32,465.74 L243.62,465.53 L243.93,465.31 L244.24,465.08 L244.54,464.84 L244.85,464.60 L245.16,464.35 L245.46,464.09 L245.77,463.83 L246.07,463.57 L246.38,463.30 L246.69,463.03 L246.99,462.76 L247.30,462.48 L247.61,462.20 L247.91,461.91 L248.22,461.61 L248.53,461.30 L248.83,460.97 L249.14,460.64 L249.44,460.29 L249.75,459.93 L250.06,459.57 L250.36,459.20 L250.67,458.82 L250.98,458.44 L251.28,458.05 L251.59,457.65 L251.90,457.26 L252.20,456.86 L252.51,456.45 L252.81,456.05 L253.12,455.65 L253.43,455.25 L253.73,454.85 L254.04,454.45 L254.35,454.04 L254.65,453.60 L254.96,453.16 L255.27,452.70 L255.57,452.23 L255.88,451.75 L256.18,451.27 L256.49,450.80 L256.80,450.33 L257.10,449.86 L257.41,449.41 L257.72,448.98 L258.02,448.56 L258.33,448.17 L258.64,447.80 L258.94,447.46 L259.25,447.15 L259.55,446.85 L259.86,446.54 L260.17,446.23 L260.47,445.92 L260.78,445.62 L261.09,445.34 L261.39,445.08 L261.70,444.84 L262.01,444.65 L262.31,444.49 L262.62,444.37 L262.92,444.31 L263.23,444.30 L263.54,444.30 L263.84,444.30 L264.15,444.30 L264.46,444.30 L264.76,444.30 L265.07,444.30 L265.38,444.30 L265.68,444.30 L265.99,444.30 L266.29,444.30 L266.60,444.30 L266.91,444.35 L267.21,444.44 L267.52,444.55 L267.83,444.68 L268.13,444.81 L268.44,444.91 L268.75,444.98 L269.05,445.00 L269.36,444.91 L269.66,444.72 L269.97,444.42 L270.28,444.05 L270.58,443.60 L270.89,443.11 L271.20,442.58 L271.50,442.04 L271.81,441.48 L272.12,440.95 L272.42,440.40 L272.73,439.78 L273.03,439.09 L273.34,438.35 L273.65,437.57 L273.95,436.75 L274.26,435.92 L274.57,435.10 L274.87,434.28 L275.18,433.48 L275.48,432.73 L275.79,432.02 L276.10,431.34 L276.40,430.66 L276.71,429.99 L277.02,429.32 L277.32,428.66 L277.63,428.01 L277.94,427.38 L278.24,426.77 L278.55,426.18 L278.85,425.62 L279.16,425.09 L279.47,424.60 L279.77,424.15 L280.08,423.73 L280.39,423.35 L280.69,422.99 L281.00,422.66 L281.31,422.33 L281.61,422.01 L281.92,421.68 L282.22,421.34 L282.53,420.98 L282.84,420.60 L283.14,420.18 L283.45,419.73 L283.76,419.25 L284.06,418.75 L284.37,418.22 L284.68,417.68 L284.98,417.12 L285.29,416.54 L285.59,415.94 L285.90,415.34 L286.21,414.73 L286.51,414.10 L286.82,413.48 L287.13,412.85 L287.43,412.20 L287.74,411.53 L288.05,410.84 L288.35,410.14 L288.66,409.42 L288.96,408.69 L289.27,407.96 L289.58,407.22 L289.88,406.47 L290.19,405.73 L290.50,405.00 L290.80,404.27 L291.11,403.54 L291.42,402.81 L291.72,402.07 L292.03,401.32 L292.33,400.57 L292.64,399.82 L292.95,399.07 L293.25,398.33 L293.56,397.60 L293.87,396.88 L294.17,396.18 L294.48,395.50 L294.79,394.84 L295.09,394.20 L295.40,393.55 L295.70,392.90 L296.01,392.25 L296.32,391.60 L296.62,390.97 L296.93,390.36 L297.24,389.77 L297.54,389.21 L297.85,388.70 L298.16,388.22 L298.46,387.80 L298.77,387.43 L299.07,387.10 L299.38,386.77 L299.69,386.44 L299.99,386.13 L300.30,385.83 L300.61,385.55 L300.91,385.31 L301.22,385.11 L301.53,384.95 L301.83,384.85 L302.14,384.80 L302.44,384.83 L302.75,384.94 L303.06,385.14 L303.36,385.40 L303.67,385.72 L303.98,386.09 L304.28,386.51 L304.59,386.96 L304.89,387.44 L305.20,387.94 L305.51,388.48 L305.81,389.18 L306.12,390.02 L306.43,390.99 L306.73,392.08 L307.04,393.27 L307.35,394.54 L307.65,395.88 L307.96,397.27 L308.26,398.69 L308.57,400.14 L308.88,401.72 L309.18,403.48 L309.49,405.37 L309.80,407.38 L310.10,409.48 L310.41,411.65 L310.72,413.86 L311.02,416.09 L311.33,418.31 L311.63,420.60 L311.94,423.00 L312.25,425.49 L312.55,428.03 L312.86,430.58 L313.17,433.12 L313.47,435.60 L313.78,437.99 L314.09,440.29 L314.39,442.58 L314.70,444.87 L315.00,447.12 L315.31,449.33 L315.62,451.47 L315.92,453.53 L316.23,455.48 L316.54,457.31 L316.84,459.10 L317.15,460.85 L317.46,462.52 L317.76,464.04 L318.07,465.37 L318.37,466.44 L318.68,467.37 L318.99,468.20 L319.29,468.88 L319.60,469.40" stroke="#2040ff" stroke-width="1.2"/>
<path d="M218.00,469.40 L218.34,469.38 L218.67,469.37 L219.01,469.35 L219.35,469.32 L219.69,469.30 L220.02,469.27 L220.36,469.25 L220.70,469.22 L221.04,469.18 L221.37,469.15 L221.71,469.12 L222.05,469.08 L222.39,469.05 L222.72,469.01 L223.06,468.97 L223.40,468.93 L223.74,468.89 L224.07,468.85 L224.41,468.80 L224.75,468.76 L225.09,468.71 L225.42,468.66 L225.76,468.60 L226.10,468.55 L226.44,468.49 L226.77,468.43 L227.11,468.36 L227.45,468.30 L227.79,468.23 L228.12,468.15 L228.46,468.08 L228.80,468.00 L229.14,467.91 L229.47,467.82 L229.81,467.73 L230.15,467.64 L230.49,467.54 L230.82,467.43 L231.16,467.30 L231.50,467.15 L231.84,466.99 L232.17,466.80 L232.51,466.60 L232.85,466.39 L233.19,466.16 L233.52,465.92 L233.86,465.66 L234.20,465.40 L234.54,465.12 L234.87,464.84 L235.21,464.54 L235.55,464.24 L235.89,463.94 L236.22,463.63 L236.56,463.31 L236.90,462.99 L237.24,462.67 L237.57,462.31 L237.91,461.92 L238.25,461.51 L238.58,461.06 L238.92,460.60 L239.26,460.12 L239.60,459.63 L239.93,459.13 L240.27,458.63 L240.61,458.13 L240.95,457.63 L241.28,457.15 L241.62,456.68 L241.96,456.23 L242.30,455.80 L242.63,455.39 L242.97,454.96 L243.31,454.53 L243.65,454.10 L243.98,453.68 L244.32,453.27 L244.66,452.88 L245.00,452.50 L245.33,452.15 L245.67,451.83 L246.01,451.55 L246.35,451.29 L246.68,451.04 L247.02,450.79 L247.36,450.54 L247.70,450.30 L248.03,450.07 L248.37,449.86 L248.71,449.68 L249.05,449.53 L249.38,449.41 L249.72,449.33 L250.06,449.30 L250.40,449.30 L250.73,449.32 L251.07,449.35 L251.41,449.38 L251.75,449.42 L252.08,449.45 L252.42,449.49 L252.76,449.53 L253.10,449.56 L253.43,449.58 L253.77,449.60 L254.11,449.60 L254.45,449.54 L254.78,449.41 L255.12,449.23 L255.46,449.00 L255.80,448.73 L256.13,448.44 L256.47,448.12 L256.81,447.77 L257.15,447.28 L257.48,446.65 L257.82,445.91 L258.16,445.07 L258.49,444.16 L258.83,443.18 L259.17,442.16 L259.51,441.11 L259.84,440.06 L260.18,438.92 L260.52,437.65 L260.86,436.28 L261.19,434.82 L261.53,433.30 L261.87,431.73 L262.21,430.13 L262.54,428.52 L262.88,426.92 L263.22,425.34 L263.56,423.74 L263.89,422.09 L264.23,420.41 L264.57,418.71 L264.91,416.99 L265.24,415.25 L265.58,413.52 L265.92,411.79 L266.26,410.08 L266.59,408.39 L266.93,406.73 L267.27,405.09 L267.61,403.41 L267.94,401.72 L268.28,400.02 L268.62,398.33 L268.96,396.66 L269.29,395.02 L269.63,393.43 L269.97,391.90 L270.31,390.45 L270.64,389.08 L270.98,387.80 L271.32,386.56 L271.66,385.33 L271.99,384.12 L272.33,382.95 L272.67,381.84 L273.01,380.80 L273.34,379.84 L273.68,378.98 L274.02,378.23 L274.36,377.60 L274.69,377.01 L275.03,376.44 L275.37,375.93 L275.71,375.52 L276.04,375.26 L276.38,375.21 L276.72,375.42 L277.06,375.89 L277.39,376.57 L277.73,377.41 L278.07,378.36 L278.41,379.39 L278.74,380.49 L279.08,382.00 L279.42,383.91 L279.75,386.14 L280.09,388.58 L280.43,391.15 L280.77,393.76 L281.10,396.30 L281.44,398.83 L281.78,401.60 L282.12,404.53 L282.45,407.51 L282.79,410.46 L283.13,413.26 L283.47,415.82 L283.80,418.03 L284.14,420.05 L284.48,422.06 L284.82,423.99 L285.15,425.77 L285.49,427.34 L285.83,428.62 L286.17,429.54 L286.50,430.13 L286.84,430.65 L287.18,431.13 L287.52,431.55 L287.85,431.89 L288.19,432.16 L288.53,432.33 L288.87,432.40 L289.20,432.39 L289.54,432.35 L289.88,432.29 L290.22,432.22 L290.55,432.12 L290.89,432.01 L291.23,431.90 L291.57,431.78 L291.90,431.65 L292.24,431.53 L292.58,431.41 L292.92,431.29 L293.25,431.19 L293.59,431.10 L293.93,431.02 L294.27,430.93 L294.60,430.84 L294.94,430.74 L295.28,430.65 L295.62,430.55 L295.95,430.46 L296.29,430.37 L296.63,430.29 L296.97,430.21 L297.30,430.15 L297.64,430.09 L297.98,430.05 L298.32,430.02 L298.65,430.00 L298.99,430.00 L299.33,430.02 L299.66,430.04 L300.00,430.08 L300.34,430.13 L300.68,430.20 L301.01,430.27 L301.35,430.36 L301.69,430.45 L302.03,430.55 L302.36,430.67 L302.70,430.79 L303.04,430.91 L303.38,431.05 L303.71,431.21 L304.05,431.47 L304.39,431.81 L304.73,432.24 L305.06,432.73 L305.40,433.28 L305.74,433.89 L306.08,434.53 L306.41,435.19 L306.75,435.88 L307.09,436.57 L307.43,437.29 L307.76,438.12 L308.10,439.05 L308.44,440.05 L308.78,441.11 L309.11,442.21 L309.45,443.32 L309.79,444.44 L310.13,445.53 L310.46,446.59 L310.80,447.61 L311.14,448.65 L311.48,449.68 L311.81,450.72 L312.15,451.76 L312.49,452.80 L312.83,453.84 L313.16,454.87 L313.50,455.90 L313.84,456.91 L314.18,457.94 L314.51,459.00 L314.85,460.09 L315.19,461.17 L315.53,462.23 L315.86,463.26 L316.20,464.23 L316.54,465.13 L316.88,465.93 L317.21,466.64 L317.55,467.29 L317.89,467.90 L318.23,468.46 L318.56,468.96 L318.90,469.40" stroke="#000" stroke-width="2.3"/>
</g>
<path d="M89.7,296.3 H329.3 V469.6 H89.7 Z M209.1,296.3 V469.6" fill="none" stroke="#000" stroke-width="1.15"/>
<path d="M98.23,469.6 v-4.2 M106.76,469.6 v-4.2 M115.29,469.6 v-4.2 M123.82,469.6 v-4.2 M132.35,469.6 v-4.2 M140.88,469.6 v-4.2 M149.41,469.6 v-4.2 M157.94,469.6 v-4.2 M166.47,469.6 v-4.2 M175.00,469.6 v-4.2 M183.53,469.6 v-4.2 M192.06,469.6 v-4.2 M200.59,469.6 v-4.2 M222.46,469.6 v-4.2 M235.82,469.6 v-4.2 M249.18,469.6 v-4.2 M262.54,469.6 v-4.2 M275.90,469.6 v-4.2 M289.26,469.6 v-4.2 M302.62,469.6 v-4.2 M315.98,469.6 v-4.2" stroke="#000" stroke-width="0.9" fill="none"/>
<text x="90.0" y="488.2" font-size="16" text-anchor="middle">-3</text>
<text x="107.1" y="488.2" font-size="16" text-anchor="middle">-2</text>
<text x="124.1" y="488.2" font-size="16" text-anchor="middle">-1</text>
<text x="140.9" y="488.2" font-size="16" text-anchor="middle">0</text>
<text x="157.9" y="488.2" font-size="16" text-anchor="middle">1</text>
<text x="175.0" y="488.2" font-size="16" text-anchor="middle">2</text>
<text x="192.1" y="488.2" font-size="16" text-anchor="middle">3</text>
<text x="209.1" y="488.2" font-size="16" text-anchor="middle">4</text>
<text x="222.5" y="488.2" font-size="16" text-anchor="middle">-2</text>
<text x="249.2" y="488.2" font-size="16" text-anchor="middle">0</text>
<text x="275.9" y="488.2" font-size="16" text-anchor="middle">2</text>
<text x="302.6" y="488.2" font-size="16" text-anchor="middle">4</text>
<text x="329.3" y="488.2" font-size="16" text-anchor="middle">6</text>
<text x="135.6" y="506.4" font-size="16">log<tspan font-size="11" dy="1.4" dx="0.5">10</tspan><tspan dy="-1.4"> t</tspan></text>
<text x="243.0" y="506.4" font-size="16">log<tspan font-size="11" dy="1.4" dx="0.5">10</tspan><tspan dy="-1.4"> t</tspan></text>
<text transform="translate(66.5,414.9) rotate(-90)" font-size="15.5">P(log<tspan font-size="10.5" dy="1.3" dx="0.6">10</tspan><tspan dy="-1.3"> t)</tspan></text>
<text x="136.5" y="285.6" font-size="16">T=1.0</text>
<text x="240.2" y="285.6" font-size="15.8">T=0.45</text>
<rect x="173" y="307.3" width="70" height="57.9" fill="#fff" stroke="#000" stroke-width="0.9"/>
<text x="177.3" y="325.0" font-size="13.2">P<tspan font-size="9" dy="1.4">x</tspan><tspan dy="-1.4">(t)</tspan></text>
<path d="M212,320.5 h19" stroke="#ff3a1a" stroke-width="1.1" fill="none"/>
<text x="177.3" y="341.5" font-size="13.2">P<tspan font-size="9" dy="1.4">1</tspan><tspan dy="-1.4">(t)</tspan></text>
<path d="M212,336.4 h19" stroke="#000" stroke-width="2.1" fill="none"/>
<text x="177.3" y="358.0" font-size="13.2">P<tspan font-size="9" dy="1.4">p</tspan><tspan dy="-1.4">(t)</tspan></text>
<path d="M212,352.3 h19" stroke="#5a78ff" stroke-width="1.2" fill="none"/>
</svg>
</body></html>
